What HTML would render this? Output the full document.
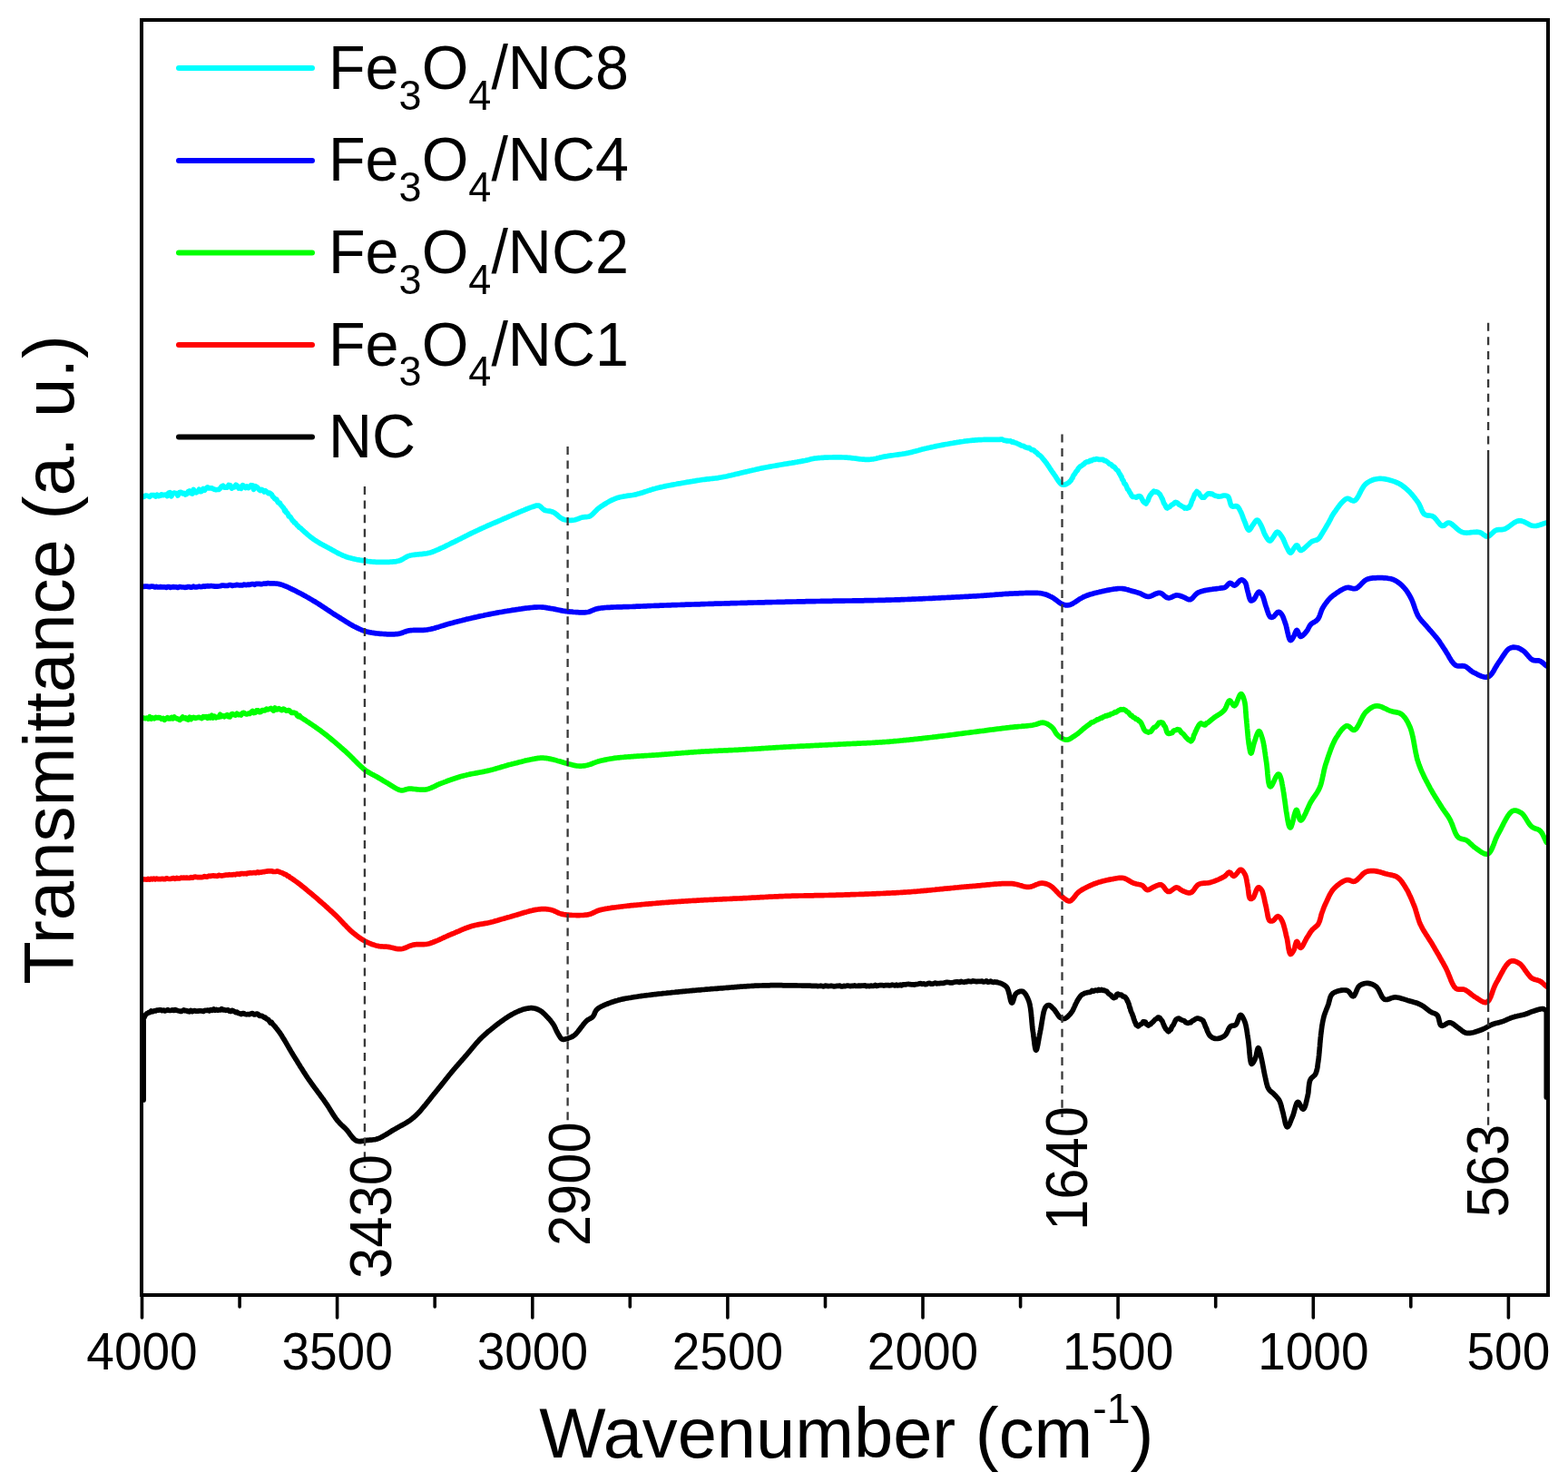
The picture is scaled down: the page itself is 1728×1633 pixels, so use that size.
<!DOCTYPE html>
<html><head><meta charset="utf-8"><title>FTIR spectra</title><style>
html,body{margin:0;padding:0;background:#fff;}
svg{display:block;}
text{font-family:"Liberation Sans",Arial,Helvetica,sans-serif;fill:#000;}
</style></head><body>
<svg width="1728" height="1633" viewBox="0 0 1728 1633">
<rect x="0" y="0" width="1728" height="1633" fill="#fff"/>
<polyline fill="none" stroke="#00ffff" stroke-width="5.7" stroke-linejoin="round" stroke-linecap="round" points="157.0,547.5 158.6,547.4 160.1,546.0 161.7,546.1 163.3,546.7 165.0,547.3 166.6,545.7 168.2,545.5 169.8,545.7 171.5,547.0 173.1,545.2 174.7,546.6 176.3,546.3 177.9,544.8 179.5,545.7 181.1,545.3 182.7,545.1 184.3,546.5 185.8,543.2 187.3,542.7 188.8,546.8 190.3,544.2 191.8,543.1 193.2,543.5 194.6,543.5 196.0,546.1 197.7,542.5 199.4,542.3 201.1,543.8 202.7,543.4 204.3,545.0 205.8,544.3 207.3,541.8 208.8,540.9 210.3,543.6 211.8,544.0 213.3,539.4 214.8,542.4 216.3,542.8 217.9,541.5 219.4,539.3 220.9,541.7 222.5,541.2 224.0,538.4 225.6,540.2 227.1,538.0 228.7,536.9 230.2,538.0 231.8,537.8 233.3,537.8 234.9,538.7 236.4,539.3 238.0,539.7 239.5,539.5 241.1,539.4 242.6,538.3 244.1,536.0 245.7,535.2 247.3,537.2 248.9,536.7 250.5,537.2 252.1,534.4 253.7,534.8 255.3,538.1 256.9,536.6 258.4,536.9 260.0,534.2 261.5,535.5 262.9,537.9 264.3,536.7 265.7,538.3 267.4,534.6 269.0,535.8 270.6,537.5 272.1,535.9 273.6,537.6 275.1,536.6 276.6,534.7 278.1,534.9 279.6,539.2 281.0,535.6 282.5,536.3 283.9,537.3 285.4,539.5 286.8,540.6 288.2,539.4 289.6,540.0 291.0,541.9 292.3,540.7 293.5,541.5 294.8,542.7 296.0,543.6 297.2,543.2 298.4,544.1 299.5,545.1 300.6,547.2 301.7,548.1 302.8,549.6 303.8,550.2 304.7,550.2 305.7,552.3 306.6,553.9 307.5,553.8 308.4,554.3 309.3,556.2 310.2,557.2 311.1,558.2 312.0,559.1 312.9,560.4 313.8,563.1 314.7,562.6 315.6,564.9 316.5,565.3 317.4,566.5 318.3,568.9 319.3,569.1 320.3,570.1 321.3,571.8 322.3,573.4 323.3,574.1 324.3,575.9 325.3,576.0 326.4,577.4 327.5,578.9 328.6,579.5 329.7,581.1 330.9,581.7 332.0,582.7 333.1,583.8 334.1,584.7 335.2,585.7 336.4,586.7 337.5,587.7 338.6,588.7 339.7,589.6 340.9,590.6 342.0,591.5 343.1,592.4 344.3,593.2 345.5,594.1 346.8,595.0 348.0,595.8 349.3,596.6 350.6,597.4 351.9,598.2 353.2,599.0 354.6,599.8 356.0,600.5 357.4,601.3 358.8,602.0 360.2,602.8 361.6,603.5 363.0,604.3 364.4,605.0 365.7,605.8 367.1,606.6 368.5,607.3 369.9,608.1 371.3,608.9 372.7,609.6 374.2,610.3 375.6,611.0 377.1,611.7 378.5,612.4 380.0,612.9 381.5,613.5 382.9,614.0 384.4,614.4 385.9,614.8 387.4,615.2 388.9,615.6 390.5,615.9 392.0,616.3 393.6,616.6 395.1,616.8 396.6,617.1 398.1,617.3 399.5,617.6 400.9,617.8 402.3,618.0 403.9,618.2 405.5,618.5 407.0,618.7 408.5,618.8 409.9,619.0 411.4,619.1 412.9,619.2 414.5,619.3 416.2,619.3 417.6,619.3 419.1,619.3 420.6,619.4 422.2,619.4 423.8,619.4 425.5,619.4 427.1,619.3 428.8,619.3 430.5,619.2 432.1,619.1 433.7,618.9 435.2,618.8 436.7,618.6 438.1,618.3 439.4,618.0 440.9,617.5 442.2,617.0 443.5,616.3 444.6,615.6 445.8,614.9 447.0,614.2 448.2,613.5 449.5,612.9 451.0,612.4 452.3,612.0 453.6,611.8 455.0,611.5 456.5,611.3 458.0,611.1 459.6,611.0 461.1,610.8 462.7,610.7 464.4,610.6 466.0,610.4 467.6,610.2 469.2,610.0 470.8,609.7 472.4,609.3 474.0,608.9 475.4,608.5 476.9,608.0 478.4,607.4 479.8,606.8 481.3,606.2 482.8,605.6 484.3,604.9 485.8,604.2 487.3,603.5 488.8,602.8 490.3,602.1 491.7,601.4 493.2,600.7 494.6,600.0 496.0,599.3 497.3,598.6 498.7,597.9 500.0,597.3 501.5,596.6 502.9,595.9 504.3,595.2 505.6,594.5 507.0,593.9 508.3,593.2 509.6,592.5 510.9,591.9 512.2,591.2 513.5,590.6 514.8,589.9 516.1,589.2 517.4,588.6 518.8,587.9 520.3,587.2 521.7,586.5 523.2,585.8 524.6,585.2 526.0,584.5 527.5,583.8 528.9,583.1 530.4,582.5 531.8,581.8 533.3,581.2 534.7,580.5 536.1,579.9 537.6,579.2 539.0,578.6 540.5,578.0 541.9,577.3 543.4,576.7 544.8,576.1 546.3,575.5 547.8,574.9 549.2,574.2 550.7,573.6 552.1,573.0 553.5,572.4 555.0,571.7 556.4,571.1 557.9,570.5 559.3,569.9 560.7,569.2 562.2,568.6 563.6,568.0 565.1,567.3 566.5,566.7 568.0,566.1 569.4,565.5 570.9,564.9 572.4,564.2 573.9,563.6 575.5,562.9 577.0,562.3 578.6,561.6 580.1,561.0 581.6,560.4 583.0,559.8 584.3,559.3 585.6,558.9 586.8,558.5 588.4,558.0 589.8,557.5 591.2,557.1 592.5,557.0 593.8,557.1 595.0,557.7 596.2,558.7 597.4,559.9 598.6,561.1 600.0,562.0 601.2,562.5 602.5,562.8 603.8,563.0 605.2,563.1 606.6,563.4 608.0,563.7 609.4,564.2 610.7,564.9 611.9,565.7 613.2,566.7 614.5,567.8 615.7,568.9 617.0,569.9 618.3,570.9 619.7,571.7 621.0,572.3 622.4,572.7 623.9,573.0 625.3,573.2 626.8,573.3 628.3,573.3 629.8,573.3 631.2,573.2 632.6,573.0 634.0,572.7 635.4,572.3 636.7,571.9 638.0,571.3 639.3,570.8 640.6,570.4 641.9,570.0 643.3,569.8 644.6,569.7 646.0,569.6 647.3,569.5 648.7,569.3 650.0,568.8 651.1,568.1 652.2,567.3 653.3,566.3 654.4,565.2 655.5,564.1 656.6,562.9 657.8,561.7 659.1,560.5 660.4,559.5 661.5,558.7 662.7,557.9 663.9,557.1 665.1,556.3 666.4,555.5 667.7,554.7 669.0,553.9 670.4,553.1 671.8,552.3 673.2,551.6 674.6,550.9 676.0,550.3 677.5,549.7 678.9,549.1 680.3,548.6 681.8,548.2 683.3,547.8 684.8,547.5 686.3,547.2 687.9,546.9 689.4,546.7 691.0,546.4 692.6,546.2 694.2,546.0 695.8,545.7 697.3,545.5 698.9,545.2 700.5,544.9 702.0,544.5 703.4,544.1 704.9,543.7 706.2,543.3 707.6,542.9 709.0,542.5 710.3,542.0 711.7,541.6 713.1,541.1 714.5,540.6 715.9,540.2 717.3,539.7 718.8,539.3 720.3,538.8 721.9,538.4 723.5,537.9 725.2,537.5 726.5,537.2 727.8,536.9 729.2,536.6 730.7,536.3 732.2,535.9 733.7,535.6 735.2,535.3 736.8,535.0 738.4,534.7 740.0,534.4 741.7,534.1 743.3,533.8 745.0,533.5 746.6,533.1 748.3,532.8 750.0,532.6 751.7,532.3 753.3,532.0 755.0,531.7 756.6,531.4 758.3,531.1 759.9,530.9 761.4,530.6 763.0,530.4 764.5,530.1 766.0,529.9 767.4,529.6 768.8,529.4 770.2,529.2 771.5,529.0 773.3,528.7 774.9,528.5 776.5,528.3 778.0,528.1 779.5,527.9 780.9,527.8 782.4,527.6 783.8,527.5 785.2,527.3 786.6,527.2 788.1,527.0 789.6,526.8 791.2,526.6 792.9,526.3 794.6,526.0 795.9,525.8 797.2,525.5 798.6,525.2 800.0,525.0 801.4,524.7 802.9,524.3 804.3,524.0 805.8,523.7 807.4,523.3 808.9,523.0 810.4,522.6 812.0,522.2 813.6,521.9 815.2,521.5 816.8,521.1 818.4,520.7 820.0,520.3 821.7,519.9 823.3,519.6 824.9,519.2 826.6,518.8 828.2,518.4 829.8,518.0 831.5,517.7 833.1,517.3 834.7,516.9 836.3,516.6 837.9,516.2 839.4,515.9 841.0,515.6 842.6,515.3 844.1,515.0 845.8,514.7 847.4,514.4 849.0,514.1 850.7,513.8 852.4,513.5 854.1,513.2 855.8,512.9 857.5,512.6 859.2,512.3 860.9,512.0 862.6,511.7 864.3,511.4 866.0,511.2 867.7,510.9 869.3,510.6 870.9,510.3 872.5,510.1 874.1,509.8 875.6,509.6 877.1,509.3 878.5,509.1 879.9,508.8 881.3,508.6 882.6,508.4 883.8,508.1 885.0,507.9 886.1,507.7 887.2,507.5 889.0,507.1 890.5,506.8 891.9,506.4 893.1,506.1 894.4,505.8 895.7,505.5 897.1,505.2 898.8,505.0 900.0,504.9 901.3,504.7 902.7,504.6 904.1,504.5 905.6,504.4 907.1,504.3 908.7,504.2 910.3,504.2 911.9,504.1 913.6,504.0 915.2,504.0 916.9,504.0 918.6,503.9 920.3,503.9 922.0,503.9 923.6,503.9 925.3,503.9 926.9,503.9 928.5,504.0 930.0,504.0 931.6,504.1 933.2,504.2 934.8,504.3 936.4,504.4 938.0,504.6 939.6,504.8 941.2,505.0 942.8,505.2 944.4,505.4 945.9,505.6 947.5,505.8 949.0,506.0 950.5,506.1 952.0,506.2 953.5,506.3 955.0,506.3 956.4,506.3 957.8,506.3 959.5,506.2 961.1,506.0 962.7,505.8 964.2,505.5 965.7,505.2 967.2,504.8 968.6,504.5 970.1,504.1 971.6,503.8 973.1,503.4 974.7,503.1 976.3,502.8 977.8,502.6 979.2,502.3 980.8,502.1 982.3,501.9 983.8,501.7 985.4,501.5 986.9,501.3 988.5,501.1 990.0,500.9 991.6,500.7 993.2,500.5 994.7,500.2 996.3,500.0 997.9,499.7 999.4,499.4 1001.0,499.1 1002.5,498.7 1004.1,498.4 1005.6,498.0 1007.1,497.6 1008.7,497.2 1010.2,496.8 1011.8,496.4 1013.3,495.9 1014.9,495.5 1016.4,495.1 1018.0,494.7 1019.5,494.3 1021.1,494.0 1022.6,493.6 1024.1,493.3 1025.7,492.9 1027.2,492.6 1028.8,492.3 1030.3,491.9 1031.8,491.6 1033.4,491.3 1034.9,491.0 1036.4,490.7 1038.0,490.4 1039.5,490.1 1041.1,489.8 1042.6,489.5 1044.2,489.3 1045.7,489.0 1047.2,488.7 1048.8,488.5 1050.3,488.2 1051.9,487.9 1053.4,487.7 1055.0,487.4 1056.5,487.2 1058.1,486.9 1059.6,486.7 1061.2,486.5 1062.7,486.2 1064.3,486.0 1065.8,485.8 1067.4,485.7 1068.9,485.5 1070.4,485.3 1072.0,485.2 1073.6,485.1 1075.1,484.9 1076.7,484.8 1078.3,484.7 1079.8,484.6 1081.4,484.6 1082.9,484.5 1084.5,484.4 1086.0,484.4 1087.5,484.3 1089.0,484.3 1090.5,484.3 1092.0,484.3 1093.6,484.3 1095.2,484.3 1096.8,484.3 1098.4,484.4 1100.0,484.4 1101.5,484.4 1103.1,484.1 1104.6,484.2 1106.1,485.1 1107.6,485.3 1109.1,485.8 1110.6,485.7 1112.1,486.0 1113.7,485.9 1115.2,487.2 1116.7,486.8 1118.2,487.8 1119.7,488.0 1121.2,488.9 1122.6,489.4 1124.1,490.1 1125.4,491.0 1126.8,491.3 1128.3,491.6 1129.8,492.7 1131.3,493.1 1132.7,493.7 1134.2,493.3 1135.5,494.6 1136.9,495.6 1138.3,495.6 1139.5,496.3 1140.7,497.9 1141.9,498.3 1143.1,499.4 1144.3,500.9 1145.5,501.5 1146.6,502.4 1147.8,503.5 1148.9,504.9 1150.0,506.3 1150.9,507.4 1151.9,508.6 1152.8,509.8 1153.7,511.0 1154.6,512.3 1155.5,513.6 1156.4,515.0 1157.2,516.3 1158.1,517.6 1158.9,518.9 1159.8,520.1 1160.6,521.3 1161.5,522.5 1162.4,523.8 1163.4,525.2 1164.3,526.7 1165.2,528.1 1166.1,529.5 1167.0,530.7 1167.9,531.9 1168.8,532.8 1169.7,533.6 1170.7,534.0 1172.1,534.2 1173.5,534.0 1174.9,533.5 1176.3,532.7 1177.7,531.8 1178.6,531.0 1179.4,530.1 1180.3,529.3 1181.1,527.6 1181.9,526.8 1182.7,524.4 1183.6,523.2 1184.5,522.2 1185.3,520.6 1186.3,519.2 1187.2,518.5 1188.2,516.4 1189.3,515.2 1190.5,513.9 1191.7,513.5 1193.0,512.3 1194.4,511.5 1195.8,510.0 1197.2,509.1 1198.6,508.8 1200.1,508.6 1201.5,507.3 1202.8,507.7 1204.2,506.7 1205.5,506.2 1207.0,506.4 1208.5,505.5 1209.9,506.1 1211.3,506.5 1212.7,506.3 1214.2,506.3 1215.6,506.4 1217.0,507.6 1218.3,507.6 1219.6,508.5 1221.0,509.5 1222.3,511.0 1223.7,511.5 1225.0,512.3 1226.3,513.8 1227.5,514.2 1228.8,515.4 1229.9,517.0 1231.0,518.0 1232.0,518.7 1232.8,520.2 1233.7,522.0 1234.4,522.6 1235.2,524.6 1235.9,525.1 1236.6,527.8 1237.3,528.8 1238.0,529.7 1238.7,532.0 1239.4,533.1 1240.2,533.4 1241.0,535.0 1241.8,536.9 1242.6,539.1 1243.4,539.5 1244.2,540.9 1245.1,542.7 1245.9,543.7 1246.7,545.5 1247.6,546.7 1248.5,547.4 1249.4,547.5 1250.8,547.5 1252.2,548.2 1253.7,547.1 1255.1,546.7 1256.4,546.8 1257.4,547.8 1258.2,549.4 1259.0,550.9 1259.8,552.4 1260.6,553.3 1261.4,554.1 1262.2,554.3 1263.0,555.1 1263.7,553.1 1264.5,552.5 1265.2,551.4 1266.0,548.8 1266.8,547.1 1267.7,545.4 1268.5,544.7 1269.4,543.2 1270.3,542.7 1271.6,541.2 1273.0,542.1 1274.5,541.9 1275.9,542.4 1277.2,543.7 1278.1,544.4 1278.9,545.9 1279.6,547.1 1280.4,549.0 1281.1,550.0 1281.8,552.0 1282.5,554.2 1283.3,555.4 1284.0,556.4 1284.8,558.3 1285.6,559.6 1286.5,560.0 1287.7,558.9 1289.0,558.5 1290.4,557.1 1291.8,556.0 1293.1,555.6 1294.4,553.9 1295.7,553.4 1296.9,553.7 1298.1,554.6 1299.2,555.9 1300.4,556.5 1301.5,557.3 1302.7,558.0 1304.1,558.6 1305.5,560.0 1306.9,559.4 1308.3,560.2 1309.6,559.0 1310.4,559.3 1311.2,557.5 1311.9,556.9 1312.6,554.8 1313.3,552.6 1314.0,550.8 1314.7,549.9 1315.4,547.7 1316.1,546.0 1316.7,544.4 1317.4,543.7 1318.2,542.6 1318.9,541.6 1320.0,542.7 1321.2,543.3 1322.4,545.6 1323.5,546.7 1324.7,548.2 1325.8,547.8 1326.9,548.2 1328.0,547.0 1329.1,546.0 1330.3,544.9 1331.6,543.8 1332.8,543.8 1334.2,544.3 1335.7,544.1 1337.2,545.2 1338.8,546.2 1340.3,546.4 1341.8,546.9 1343.1,547.1 1344.6,547.0 1346.1,546.7 1347.5,546.3 1348.8,546.0 1350.0,546.0 1351.3,546.2 1352.4,546.6 1353.5,547.4 1354.2,548.5 1354.7,550.0 1355.2,551.8 1355.7,553.7 1356.2,555.4 1356.8,556.9 1357.6,557.8 1358.9,558.1 1360.4,557.9 1361.9,557.6 1363.2,557.8 1364.2,558.6 1365.1,559.7 1365.9,561.1 1366.6,562.5 1367.4,564.0 1368.0,565.3 1368.6,566.8 1369.2,568.3 1369.7,569.8 1370.3,571.4 1370.9,572.9 1371.5,574.4 1372.2,576.0 1372.8,577.8 1373.5,579.6 1374.2,581.3 1374.9,582.8 1375.7,583.8 1376.4,584.2 1377.2,583.8 1378.0,582.8 1378.9,581.4 1379.7,579.9 1380.6,578.6 1381.5,577.3 1382.5,575.8 1383.5,574.4 1384.5,573.4 1385.4,573.0 1386.3,573.4 1387.1,574.3 1388.0,575.7 1388.8,577.1 1389.6,578.6 1390.2,579.8 1390.8,581.2 1391.4,582.6 1392.0,584.1 1392.5,585.6 1393.1,587.1 1393.7,588.5 1394.4,589.7 1395.3,591.3 1396.3,593.0 1397.3,594.5 1398.3,595.5 1399.3,596.0 1400.2,595.7 1401.1,594.8 1401.9,593.6 1402.8,592.5 1403.7,591.2 1404.7,589.6 1405.6,588.0 1406.6,586.8 1407.6,586.2 1408.6,586.5 1409.6,587.3 1410.6,588.4 1411.6,589.8 1412.5,591.1 1413.2,592.2 1413.8,593.4 1414.5,594.7 1415.1,596.2 1415.7,597.6 1416.3,599.0 1416.9,600.4 1417.5,601.7 1418.1,602.9 1418.9,604.5 1419.7,606.2 1420.5,607.7 1421.4,608.8 1422.2,609.2 1423.0,608.8 1423.9,607.7 1424.7,606.2 1425.6,604.8 1426.4,603.6 1427.3,602.4 1428.3,601.2 1429.2,600.8 1430.0,601.4 1430.7,602.7 1431.5,604.3 1432.3,605.7 1433.3,606.4 1434.3,606.3 1435.5,605.6 1436.7,604.7 1438.0,603.6 1439.2,602.5 1440.3,601.5 1441.4,600.5 1442.5,599.5 1443.5,598.5 1444.6,597.5 1445.8,596.7 1447.1,596.1 1448.6,595.6 1450.1,595.2 1451.5,594.7 1452.8,593.9 1453.7,593.0 1454.6,591.9 1455.3,590.8 1456.1,589.5 1456.8,588.2 1457.6,586.9 1458.3,585.7 1459.1,584.5 1459.9,583.2 1460.7,581.8 1461.5,580.4 1462.3,579.1 1463.1,577.7 1463.9,576.4 1464.6,575.1 1465.4,573.7 1466.1,572.3 1466.8,571.0 1467.4,569.6 1468.2,568.3 1469.0,566.9 1470.0,565.4 1470.8,564.3 1471.7,563.1 1472.6,561.7 1473.6,560.3 1474.6,558.9 1475.7,557.5 1476.8,556.1 1477.9,554.7 1479.1,553.4 1480.2,552.3 1481.3,551.3 1482.4,550.4 1483.4,549.8 1484.4,549.4 1485.8,549.4 1487.2,549.9 1488.5,550.7 1489.8,551.4 1491.2,551.9 1492.5,551.8 1493.4,551.3 1494.2,550.6 1495.0,549.7 1495.8,548.5 1496.6,547.2 1497.4,545.8 1498.2,544.2 1499.0,542.7 1499.8,541.1 1500.6,539.5 1501.5,538.0 1502.4,536.5 1503.3,535.3 1504.2,534.1 1505.2,533.2 1506.4,532.2 1507.7,531.4 1509.0,530.6 1510.3,529.9 1511.7,529.3 1513.1,528.8 1514.5,528.3 1516.0,528.0 1517.5,527.7 1519.0,527.5 1520.4,527.4 1521.8,527.4 1523.3,527.5 1524.9,527.7 1526.5,527.9 1528.1,528.2 1529.7,528.6 1531.3,529.0 1532.9,529.4 1534.4,529.9 1535.9,530.4 1537.4,530.9 1538.7,531.5 1540.0,532.0 1541.5,532.7 1542.9,533.5 1544.2,534.3 1545.5,535.2 1546.7,536.1 1547.9,537.0 1549.1,538.0 1550.3,539.1 1551.5,540.2 1552.5,541.2 1553.6,542.2 1554.6,543.3 1555.6,544.4 1556.6,545.6 1557.6,546.8 1558.6,548.0 1559.5,549.2 1560.4,550.4 1561.3,551.6 1562.2,552.8 1563.0,554.0 1563.8,555.3 1564.5,556.7 1565.2,558.2 1565.8,559.6 1566.4,561.1 1567.0,562.5 1567.6,563.8 1568.3,564.9 1569.1,566.0 1570.0,566.8 1571.4,567.5 1572.9,567.9 1574.5,568.1 1576.1,568.2 1577.8,568.5 1579.3,569.1 1580.4,569.9 1581.5,570.9 1582.5,572.2 1583.6,573.5 1584.6,574.9 1585.7,576.2 1586.7,577.4 1587.7,578.4 1588.7,579.1 1589.7,579.5 1591.1,579.3 1592.4,578.4 1593.7,577.3 1595.1,576.3 1596.6,576.0 1597.7,576.2 1598.8,576.8 1599.9,577.5 1601.1,578.5 1602.3,579.5 1603.6,580.7 1604.9,581.9 1606.2,583.1 1607.6,584.2 1608.9,585.1 1610.3,585.9 1611.7,586.5 1613.1,586.8 1614.7,587.0 1616.3,587.1 1617.9,587.0 1619.5,586.9 1621.2,586.7 1622.8,586.5 1624.4,586.4 1626.0,586.3 1627.5,586.2 1628.9,586.3 1630.2,586.5 1631.7,587.0 1633.1,587.8 1634.4,588.8 1635.7,589.7 1636.9,590.5 1638.1,591.0 1639.4,591.1 1640.6,590.8 1641.7,590.1 1642.9,589.1 1644.0,588.0 1645.2,586.9 1646.3,585.8 1647.5,584.9 1648.7,584.2 1650.2,583.8 1651.7,583.6 1653.2,583.6 1654.7,583.6 1656.3,583.4 1658.0,583.0 1659.2,582.5 1660.5,581.8 1661.8,581.0 1663.1,580.0 1664.5,579.0 1665.8,578.0 1667.2,577.0 1668.6,576.0 1670.0,575.2 1671.4,574.5 1672.8,574.1 1674.2,573.8 1675.7,573.8 1677.1,574.1 1678.6,574.6 1680.1,575.2 1681.6,576.0 1683.1,576.8 1684.6,577.6 1686.0,578.3 1687.5,578.9 1689.0,579.3 1690.4,579.5 1692.0,579.5 1693.5,579.3 1695.1,578.9 1696.6,578.5 1698.2,578.0 1699.7,577.5 1701.2,576.9 1702.8,576.4 1704.3,576.0"/>
<polyline fill="none" stroke="#0000ff" stroke-width="5.7" stroke-linejoin="round" stroke-linecap="round" points="157.0,646.4 158.6,646.4 160.1,646.0 161.7,646.1 163.2,646.4 164.7,646.7 166.3,646.2 167.8,646.2 169.4,646.4 170.9,647.0 172.4,646.4 174.0,647.0 175.5,647.0 177.1,646.5 178.6,646.9 180.2,646.8 181.7,646.8 183.3,647.4 184.8,646.6 186.4,646.5 188.0,647.4 189.6,646.9 191.2,646.7 192.8,646.8 194.4,646.9 196.0,647.5 197.5,646.7 199.0,646.7 200.5,647.0 202.1,647.0 203.6,647.3 205.2,647.2 206.7,646.7 208.3,646.5 209.9,647.1 211.5,647.2 213.1,646.2 214.7,646.8 216.3,646.9 217.9,646.6 219.5,646.1 221.1,646.6 222.7,646.5 224.3,645.9 225.8,646.3 227.4,645.8 229.0,645.6 230.6,645.8 232.1,645.7 233.7,645.7 235.2,645.9 236.7,646.1 238.2,646.1 239.7,646.1 241.2,646.0 242.6,645.8 244.3,645.2 246.0,645.0 247.7,645.4 249.3,645.3 251.0,645.3 252.6,644.7 254.3,644.7 255.9,645.4 257.5,645.0 259.1,645.0 260.7,644.4 262.3,644.6 263.9,645.0 265.4,644.7 267.0,645.0 268.5,644.1 270.0,644.3 271.5,644.6 273.0,644.1 274.4,644.4 275.9,644.1 277.3,643.6 279.0,643.5 280.6,644.3 282.3,643.3 284.0,643.3 285.6,643.3 287.2,643.6 288.8,643.6 290.4,643.1 291.9,643.0 293.4,643.2 294.8,642.6 296.2,642.7 297.5,642.9 298.8,642.9 300.0,642.8 301.8,642.9 303.4,643.0 304.8,643.1 306.2,643.3 307.7,643.6 309.3,644.0 310.6,644.4 311.9,644.8 313.2,645.3 314.5,645.8 315.9,646.4 317.2,647.0 318.7,647.7 320.1,648.4 321.6,649.1 323.1,649.8 324.3,650.4 325.6,651.0 326.9,651.7 328.2,652.4 329.5,653.1 330.9,653.8 332.3,654.5 333.7,655.3 335.1,656.1 336.5,656.8 337.9,657.6 339.3,658.4 340.8,659.3 342.2,660.1 343.6,660.9 344.9,661.7 346.3,662.5 347.6,663.3 348.9,664.1 350.2,664.9 351.5,665.7 352.8,666.5 354.0,667.4 355.3,668.2 356.6,669.1 357.9,669.9 359.1,670.8 360.4,671.6 361.7,672.5 363.0,673.3 364.3,674.2 365.5,675.0 366.8,675.9 368.1,676.7 369.4,677.5 370.8,678.4 372.2,679.2 373.6,680.1 375.0,681.0 376.4,681.9 377.9,682.8 379.3,683.7 380.7,684.6 382.1,685.5 383.6,686.3 384.9,687.2 386.3,688.0 387.6,688.7 388.9,689.5 390.2,690.2 391.4,690.8 392.6,691.4 394.2,692.2 395.7,692.9 397.1,693.5 398.5,694.1 399.8,694.6 401.2,695.1 402.7,695.6 404.2,696.0 405.6,696.3 406.9,696.7 408.4,696.9 409.8,697.2 411.3,697.4 412.8,697.6 414.3,697.8 415.8,698.0 417.3,698.1 418.9,698.3 420.4,698.4 421.9,698.5 423.5,698.6 425.0,698.7 426.6,698.8 428.2,698.8 429.9,698.9 431.5,698.9 433.0,698.9 434.6,698.8 436.1,698.7 437.5,698.6 438.9,698.4 440.5,698.1 441.9,697.7 443.3,697.2 444.7,696.7 446.0,696.2 447.4,695.7 448.9,695.2 450.5,694.9 451.8,694.7 453.1,694.6 454.5,694.5 455.9,694.4 457.4,694.4 458.9,694.4 460.4,694.4 461.9,694.4 463.5,694.4 465.0,694.3 466.6,694.3 468.2,694.2 469.7,694.0 471.3,693.8 472.7,693.5 474.2,693.3 475.7,692.9 477.2,692.6 478.7,692.2 480.2,691.7 481.7,691.3 483.2,690.9 484.8,690.4 486.3,689.9 487.8,689.4 489.3,689.0 490.8,688.5 492.3,688.1 493.8,687.6 495.3,687.2 496.8,686.8 498.4,686.4 499.9,686.0 501.4,685.6 502.9,685.2 504.4,684.8 505.9,684.4 507.4,684.0 508.9,683.7 510.4,683.3 511.9,682.9 513.4,682.5 515.0,682.1 516.6,681.8 518.2,681.4 519.9,681.0 521.3,680.7 522.6,680.4 524.1,680.1 525.5,679.8 526.9,679.4 528.4,679.1 529.9,678.8 531.3,678.5 532.8,678.2 534.4,677.8 535.9,677.5 537.4,677.2 539.0,676.9 540.5,676.6 542.1,676.3 543.6,676.0 545.2,675.7 546.8,675.4 548.3,675.1 549.9,674.8 551.5,674.5 553.0,674.3 554.6,674.0 556.1,673.7 557.7,673.5 559.3,673.2 561.0,673.0 562.6,672.7 564.3,672.4 566.0,672.1 567.7,671.9 569.4,671.6 571.1,671.4 572.8,671.1 574.5,670.9 576.2,670.6 577.9,670.4 579.6,670.2 581.2,670.0 582.8,669.8 584.3,669.6 585.9,669.5 587.4,669.3 588.8,669.2 590.2,669.1 591.5,669.1 592.8,669.0 594.0,669.0 595.8,669.0 597.5,669.1 599.1,669.2 600.6,669.4 602.0,669.6 603.5,669.9 604.9,670.1 606.4,670.4 607.9,670.6 609.3,670.8 610.7,671.1 612.1,671.4 613.5,671.7 615.0,672.0 616.4,672.3 617.9,672.6 619.4,672.9 620.9,673.2 622.4,673.4 624.0,673.6 625.4,673.8 626.9,673.9 628.5,674.1 630.1,674.2 631.7,674.4 633.4,674.5 635.0,674.6 636.7,674.7 638.3,674.8 639.9,674.8 641.5,674.9 643.0,674.8 644.5,674.8 645.9,674.7 647.2,674.5 648.8,674.2 650.2,673.8 651.5,673.2 652.8,672.7 654.1,672.1 655.5,671.5 657.0,671.0 658.8,670.6 659.9,670.4 661.1,670.2 662.3,670.0 663.6,669.9 664.9,669.8 666.2,669.6 667.6,669.5 669.0,669.4 670.5,669.3 672.0,669.3 673.6,669.2 675.1,669.1 676.8,669.0 678.4,669.0 680.1,668.9 681.8,668.9 683.5,668.8 685.3,668.8 687.0,668.7 688.8,668.7 690.7,668.6 692.5,668.6 694.4,668.5 696.2,668.5 698.1,668.4 700.0,668.3 701.3,668.2 702.6,668.2 703.9,668.1 705.3,668.1 706.7,668.0 708.0,668.0 709.4,667.9 710.9,667.8 712.3,667.8 713.8,667.7 715.3,667.7 716.7,667.6 718.3,667.5 719.8,667.5 721.3,667.4 722.9,667.4 724.4,667.3 726.0,667.3 727.6,667.2 729.2,667.1 730.8,667.1 732.4,667.0 734.0,667.0 735.7,666.9 737.3,666.9 739.0,666.8 740.6,666.7 742.3,666.7 744.0,666.6 745.7,666.6 747.3,666.5 749.0,666.5 750.7,666.4 752.4,666.3 754.1,666.3 755.8,666.2 757.5,666.2 759.2,666.1 760.9,666.1 762.6,666.0 764.3,666.0 766.0,665.9 767.7,665.9 769.4,665.8 771.1,665.8 772.8,665.7 774.5,665.6 776.2,665.6 777.9,665.5 779.5,665.5 781.2,665.4 782.8,665.4 784.5,665.3 786.1,665.3 787.8,665.2 789.4,665.2 791.0,665.1 792.6,665.1 794.2,665.1 795.8,665.0 797.4,665.0 799.0,664.9 800.6,664.9 802.2,664.8 803.8,664.8 805.4,664.7 807.0,664.7 808.6,664.6 810.2,664.6 811.8,664.6 813.4,664.5 815.0,664.5 816.5,664.4 818.1,664.4 819.7,664.3 821.3,664.3 822.9,664.3 824.5,664.2 826.1,664.2 827.7,664.1 829.3,664.1 830.9,664.0 832.5,664.0 834.1,664.0 835.7,663.9 837.3,663.9 838.9,663.9 840.5,663.8 842.1,663.8 843.7,663.7 845.3,663.7 846.9,663.7 848.5,663.6 850.1,663.6 851.7,663.5 853.3,663.5 854.9,663.5 856.5,663.4 858.1,663.4 859.7,663.4 861.3,663.3 862.8,663.3 864.4,663.3 866.0,663.2 867.6,663.2 869.2,663.1 870.8,663.1 872.4,663.1 874.0,663.0 875.6,663.0 877.2,663.0 878.8,662.9 880.4,662.9 882.0,662.9 883.6,662.8 885.2,662.8 886.8,662.8 888.4,662.7 890.0,662.7 891.7,662.7 893.3,662.6 894.9,662.6 896.6,662.6 898.2,662.6 899.9,662.5 901.6,662.5 903.2,662.5 904.9,662.4 906.6,662.4 908.3,662.4 909.9,662.4 911.6,662.3 913.3,662.3 915.0,662.3 916.7,662.3 918.4,662.2 920.1,662.2 921.7,662.2 923.4,662.2 925.1,662.1 926.8,662.1 928.5,662.1 930.2,662.1 931.8,662.0 933.5,662.0 935.2,662.0 936.8,662.0 938.5,662.0 940.1,661.9 941.7,661.9 943.4,661.9 945.0,661.9 946.6,661.8 948.2,661.8 949.8,661.8 951.4,661.8 953.0,661.7 954.6,661.7 956.1,661.7 957.7,661.6 959.2,661.6 960.7,661.6 962.2,661.6 963.7,661.5 965.2,661.5 966.7,661.5 968.1,661.4 969.5,661.4 971.0,661.4 972.4,661.3 973.8,661.3 975.1,661.3 976.5,661.2 977.8,661.2 979.6,661.1 981.5,661.1 983.2,661.0 985.0,661.0 986.7,660.9 988.3,660.9 990.0,660.8 991.6,660.8 993.2,660.7 994.7,660.7 996.3,660.6 997.8,660.5 999.4,660.5 1000.9,660.4 1002.4,660.4 1003.9,660.3 1005.4,660.2 1006.9,660.2 1008.4,660.1 1009.9,660.0 1011.4,660.0 1012.9,659.9 1014.4,659.8 1016.0,659.8 1017.5,659.7 1019.1,659.6 1020.7,659.5 1022.3,659.5 1024.0,659.4 1025.5,659.3 1027.0,659.3 1028.5,659.2 1030.1,659.1 1031.6,659.0 1033.2,659.0 1034.7,658.9 1036.3,658.8 1037.9,658.7 1039.5,658.7 1041.1,658.6 1042.7,658.5 1044.3,658.4 1045.9,658.4 1047.5,658.3 1049.2,658.2 1050.8,658.1 1052.4,658.0 1054.0,657.9 1055.6,657.9 1057.2,657.8 1058.8,657.7 1060.4,657.6 1062.0,657.5 1063.6,657.4 1065.1,657.3 1066.7,657.3 1068.2,657.2 1069.8,657.1 1071.3,657.0 1072.8,656.9 1074.3,656.8 1075.7,656.8 1077.2,656.7 1078.6,656.6 1080.0,656.5 1081.7,656.4 1083.4,656.3 1085.0,656.2 1086.6,656.1 1088.3,655.9 1089.9,655.8 1091.4,655.7 1093.0,655.6 1094.6,655.5 1096.1,655.3 1097.6,655.2 1099.2,655.1 1100.7,655.0 1102.2,654.9 1103.7,654.8 1105.2,654.6 1106.7,654.5 1108.1,654.4 1109.6,654.4 1111.1,654.3 1112.6,654.2 1114.0,654.1 1115.5,654.1 1117.0,654.0 1118.7,653.9 1120.3,653.9 1122.0,653.8 1123.7,653.7 1125.4,653.6 1127.2,653.6 1128.9,653.5 1130.6,653.4 1132.3,653.4 1133.9,653.3 1135.6,653.3 1137.2,653.3 1138.8,653.3 1140.4,653.3 1141.9,653.3 1143.3,653.4 1144.7,653.5 1146.0,653.6 1147.3,653.8 1148.5,654.0 1150.2,654.4 1151.7,654.8 1153.1,655.3 1154.5,655.8 1155.8,656.4 1157.0,657.0 1158.3,657.6 1159.6,658.3 1160.9,659.0 1162.1,659.9 1163.4,660.8 1164.7,661.8 1165.9,662.7 1167.1,663.6 1168.3,664.5 1169.5,665.2 1170.7,665.7 1172.2,666.2 1173.6,666.6 1175.0,666.9 1176.5,666.9 1178.1,666.7 1179.3,666.4 1180.5,665.9 1181.9,665.2 1183.2,664.4 1184.6,663.6 1186.1,662.6 1187.6,661.6 1189.0,660.7 1190.5,659.7 1192.0,658.9 1193.4,658.1 1194.8,657.4 1196.3,656.8 1197.7,656.2 1199.1,655.7 1200.5,655.2 1201.9,654.8 1203.4,654.4 1204.8,654.0 1206.4,653.6 1207.9,653.2 1209.6,652.8 1210.9,652.5 1212.4,652.1 1213.9,651.8 1215.4,651.4 1217.0,651.1 1218.7,650.7 1220.3,650.4 1222.0,650.1 1223.6,649.8 1225.3,649.5 1226.9,649.2 1228.5,649.0 1230.1,648.8 1231.6,648.6 1233.0,648.5 1234.3,648.5 1235.6,648.5 1237.2,648.6 1238.7,648.8 1240.2,649.1 1241.5,649.5 1242.8,649.8 1244.1,650.2 1245.4,650.6 1246.7,651.0 1248.1,651.4 1249.4,651.7 1250.8,652.1 1252.1,652.5 1253.4,652.8 1254.7,653.3 1256.0,653.7 1257.3,654.2 1258.6,654.9 1259.9,655.6 1261.1,656.2 1262.5,656.8 1263.8,657.2 1265.2,657.4 1266.5,657.3 1268.0,656.9 1269.4,656.3 1270.9,655.6 1272.4,654.9 1273.9,654.2 1275.4,653.7 1276.8,653.3 1278.1,653.3 1279.5,653.7 1280.9,654.5 1282.2,655.6 1283.5,656.7 1284.8,657.7 1286.1,658.5 1287.4,658.9 1288.7,658.8 1290.1,658.5 1291.4,657.9 1292.8,657.2 1294.1,656.6 1295.4,656.1 1296.7,655.9 1298.2,656.0 1299.7,656.3 1301.1,656.8 1302.6,657.3 1304.0,657.8 1305.3,658.3 1306.5,659.0 1307.8,659.7 1309.0,660.3 1310.3,660.7 1311.5,660.7 1312.6,660.3 1313.7,659.5 1314.7,658.5 1315.7,657.3 1316.8,656.0 1318.0,654.8 1319.2,653.7 1320.7,652.8 1321.9,652.3 1323.2,651.8 1324.7,651.4 1326.2,651.0 1327.9,650.6 1329.6,650.3 1331.3,650.0 1333.0,649.7 1334.8,649.5 1336.5,649.2 1338.1,649.0 1339.7,648.8 1341.2,648.6 1342.5,648.5 1343.8,648.3 1344.8,648.1 1346.4,647.9 1347.7,647.8 1348.8,647.6 1350.0,647.2 1351.2,646.4 1352.3,645.2 1353.4,643.9 1354.5,642.9 1355.6,642.4 1356.8,642.8 1358.0,643.7 1359.1,644.7 1360.4,645.1 1361.4,644.7 1362.6,643.8 1363.7,642.6 1364.9,641.3 1366.0,640.1 1367.1,639.3 1368.1,638.9 1369.2,639.1 1370.3,639.7 1371.3,640.6 1372.2,641.7 1372.8,642.7 1373.2,644.0 1373.6,645.4 1373.9,646.9 1374.3,648.4 1374.6,649.9 1375.0,651.4 1375.4,653.0 1375.9,654.8 1376.3,656.7 1376.8,658.4 1377.3,660.0 1377.9,661.1 1378.5,661.8 1379.8,661.9 1381.2,661.1 1382.1,660.2 1383.0,658.8 1383.9,657.1 1384.8,655.3 1385.8,653.7 1386.7,652.6 1387.5,652.1 1388.4,652.4 1389.3,653.2 1390.2,654.3 1391.0,655.6 1391.5,656.6 1392.0,657.8 1392.5,659.2 1392.9,660.6 1393.3,662.1 1393.7,663.7 1394.2,665.2 1394.6,666.7 1395.1,668.1 1395.7,669.7 1396.2,671.5 1396.8,673.3 1397.4,675.0 1398.0,676.7 1398.7,678.1 1399.3,679.2 1400.0,679.9 1401.3,680.3 1402.8,679.9 1403.8,679.3 1404.8,678.2 1405.9,676.9 1407.0,675.6 1408.0,674.7 1409.0,674.3 1410.3,674.7 1411.4,675.7 1412.5,677.1 1413.1,678.0 1413.7,679.1 1414.2,680.3 1414.7,681.7 1415.2,683.1 1415.7,684.5 1416.2,686.0 1416.7,687.5 1417.2,688.9 1417.6,690.6 1418.0,692.5 1418.5,694.4 1418.9,696.4 1419.4,698.3 1419.8,700.2 1420.3,701.9 1420.7,703.3 1421.2,704.5 1421.7,705.3 1422.2,705.6 1423.1,705.3 1424.0,704.2 1424.9,702.8 1425.7,701.4 1426.4,699.9 1427.1,698.1 1427.8,696.3 1428.5,695.0 1429.2,694.4 1429.8,694.9 1430.4,696.1 1431.1,697.8 1431.7,699.5 1432.5,700.8 1433.3,701.4 1434.3,701.2 1435.5,700.4 1436.8,699.2 1438.1,697.8 1439.3,696.4 1440.3,695.1 1441.1,694.0 1441.7,692.8 1442.3,691.6 1442.9,690.4 1443.6,689.3 1444.4,688.2 1445.5,687.2 1446.8,686.3 1448.2,685.6 1449.6,684.7 1450.9,683.8 1452.1,682.6 1452.9,681.5 1453.6,680.2 1454.2,678.8 1454.7,677.4 1455.2,675.9 1455.8,674.3 1456.3,672.9 1456.9,671.4 1457.6,670.1 1458.4,668.8 1459.2,667.4 1460.1,666.1 1461.0,664.9 1461.9,663.7 1462.8,662.5 1463.7,661.4 1464.6,660.4 1465.6,659.3 1466.6,658.3 1467.6,657.4 1468.7,656.6 1470.0,655.6 1471.0,654.9 1472.2,654.0 1473.4,653.2 1474.7,652.3 1476.1,651.4 1477.5,650.5 1478.9,649.7 1480.3,649.0 1481.7,648.3 1483.0,647.8 1484.3,647.5 1485.8,647.4 1487.2,647.6 1488.6,647.9 1490.0,648.3 1491.4,648.6 1492.7,648.7 1494.1,648.5 1495.3,648.0 1496.5,647.2 1497.6,646.2 1498.8,645.1 1499.9,643.9 1501.1,642.6 1502.3,641.4 1503.4,640.3 1504.7,639.4 1505.9,638.7 1507.3,638.1 1508.7,637.7 1510.1,637.3 1511.6,637.1 1513.0,636.9 1514.5,636.8 1516.1,636.8 1517.7,636.7 1519.1,636.7 1520.5,636.7 1522.0,636.7 1523.5,636.7 1525.1,636.8 1526.7,636.9 1528.3,637.0 1529.8,637.3 1531.3,637.5 1532.8,637.8 1534.2,638.2 1535.5,638.7 1536.9,639.3 1538.2,640.0 1539.5,640.7 1540.7,641.6 1541.9,642.5 1543.1,643.4 1544.2,644.4 1545.3,645.4 1546.3,646.5 1547.3,647.5 1548.3,648.7 1549.3,649.9 1550.2,651.1 1551.1,652.4 1551.9,653.7 1552.7,655.0 1553.5,656.4 1554.3,657.9 1555.1,659.4 1555.7,660.6 1556.3,662.0 1556.8,663.3 1557.4,664.8 1557.9,666.2 1558.4,667.7 1558.9,669.2 1559.4,670.7 1560.0,672.2 1560.5,673.7 1561.1,675.1 1561.7,676.5 1562.3,677.8 1563.0,679.0 1563.9,680.4 1564.8,681.6 1565.7,682.8 1566.7,684.0 1567.7,685.1 1568.7,686.2 1569.7,687.3 1570.7,688.5 1571.8,689.6 1572.8,690.8 1573.8,691.9 1574.7,693.0 1575.7,694.2 1576.8,695.3 1577.8,696.5 1578.8,697.7 1579.8,698.8 1580.8,700.0 1581.8,701.2 1582.8,702.3 1583.7,703.5 1584.6,704.6 1585.6,705.9 1586.5,707.2 1587.3,708.5 1588.2,709.8 1589.0,711.0 1589.8,712.3 1590.7,713.7 1591.6,715.0 1592.5,716.4 1593.3,717.6 1594.1,719.0 1595.0,720.4 1595.9,721.9 1596.7,723.4 1597.6,725.0 1598.5,726.4 1599.4,727.9 1600.4,729.2 1601.3,730.4 1602.3,731.5 1603.3,732.4 1604.3,733.1 1605.7,733.7 1607.1,733.9 1608.5,733.9 1609.9,733.8 1611.4,733.7 1612.8,733.8 1614.2,734.1 1615.5,734.7 1616.7,735.5 1617.8,736.4 1619.0,737.3 1620.1,738.3 1621.3,739.3 1622.6,740.2 1624.0,741.0 1625.3,741.6 1626.6,742.3 1628.1,743.1 1629.6,743.8 1631.1,744.5 1632.6,745.1 1634.1,745.6 1635.6,746.0 1637.1,746.2 1638.4,746.2 1639.7,745.9 1640.8,745.4 1641.8,744.7 1642.8,743.8 1643.7,742.7 1644.6,741.5 1645.5,740.1 1646.4,738.7 1647.2,737.2 1648.0,735.7 1648.9,734.3 1649.7,732.8 1650.6,731.5 1651.5,730.2 1652.4,728.9 1653.3,727.6 1654.2,726.2 1655.1,724.8 1656.0,723.4 1657.0,722.0 1657.9,720.6 1658.8,719.3 1659.7,718.1 1660.6,716.9 1661.5,716.0 1662.5,715.1 1663.4,714.5 1665.0,713.8 1666.5,713.4 1668.1,713.2 1669.7,713.3 1671.2,713.5 1672.5,713.8 1673.9,714.3 1675.2,714.9 1676.5,715.7 1677.8,716.5 1679.1,717.4 1680.2,718.3 1681.3,719.4 1682.3,720.6 1683.4,721.9 1684.5,723.2 1685.6,724.4 1686.7,725.6 1687.8,726.5 1688.9,727.2 1690.5,727.7 1692.1,727.8 1693.7,727.8 1695.3,727.8 1696.8,728.2 1698.0,728.8 1699.1,729.5 1700.3,730.4 1701.4,731.3 1702.5,732.3 1703.6,733.2 1704.7,734.1"/>
<polyline fill="none" stroke="#00ff00" stroke-width="5.7" stroke-linejoin="round" stroke-linecap="round" points="157.0,791.2 158.6,791.2 160.2,791.7 161.8,791.0 163.4,792.1 165.0,789.8 166.7,792.0 168.3,791.0 169.9,791.8 171.6,790.3 173.2,790.9 174.9,790.7 176.5,790.9 178.1,792.3 179.7,791.5 181.3,793.2 182.9,791.9 184.5,790.7 186.0,792.0 187.6,791.8 189.1,790.5 190.6,791.8 192.1,790.0 193.5,791.3 194.9,791.8 196.3,792.3 198.0,793.3 199.7,792.1 201.3,790.1 202.9,791.6 204.5,790.8 206.0,792.5 207.5,793.0 209.0,790.2 210.5,792.5 211.9,790.8 213.4,790.4 214.9,791.3 216.4,791.1 217.9,790.6 219.4,790.4 220.9,790.9 222.5,791.6 224.0,789.7 225.6,790.3 227.1,789.7 228.7,791.2 230.2,789.4 231.8,790.9 233.3,788.3 234.9,790.9 236.4,789.3 238.0,790.8 239.5,790.2 241.1,790.2 242.6,787.3 244.1,789.6 245.7,788.7 247.2,789.8 248.8,788.6 250.3,787.8 251.8,789.6 253.4,789.8 254.9,787.0 256.5,786.6 258.0,787.5 259.5,788.1 261.1,786.3 262.6,787.6 264.2,787.3 265.7,788.0 267.3,785.6 268.8,785.4 270.4,786.5 272.0,787.0 273.5,786.2 275.1,786.5 276.7,784.7 278.2,783.6 279.8,785.6 281.4,785.2 282.9,782.9 284.4,782.8 285.9,784.7 287.4,784.4 288.9,782.6 290.5,782.6 292.1,782.8 293.7,781.2 295.3,781.9 296.9,781.4 298.5,780.4 300.0,781.8 301.5,783.1 303.0,780.0 304.5,781.9 306.0,781.6 307.4,780.6 309.0,781.9 310.6,782.6 312.2,781.1 313.8,781.9 315.3,783.1 316.8,782.9 318.3,782.5 319.8,783.8 321.3,785.4 322.6,785.5 323.8,785.2 325.1,785.7 326.3,786.0 327.5,788.4 328.7,789.6 330.0,788.5 331.2,790.2 332.5,791.0 333.8,791.9 335.2,792.8 336.4,793.5 337.5,794.3 338.7,795.1 340.0,795.9 341.3,796.8 342.5,797.6 343.8,798.5 345.1,799.4 346.5,800.3 347.8,801.3 349.1,802.2 350.5,803.2 351.8,804.1 353.1,805.1 354.4,806.1 355.7,807.0 357.0,808.0 358.3,809.0 359.5,809.9 360.7,810.8 361.8,811.8 363.0,812.7 364.2,813.7 365.4,814.7 366.6,815.7 367.7,816.6 368.9,817.6 370.1,818.6 371.2,819.6 372.4,820.6 373.5,821.6 374.7,822.7 375.8,823.7 377.0,824.7 378.1,825.7 379.3,826.7 380.4,827.7 381.5,828.7 382.7,829.8 383.9,830.9 385.1,832.1 386.3,833.2 387.5,834.4 388.7,835.6 389.8,836.8 391.0,838.0 392.2,839.1 393.3,840.3 394.5,841.5 395.6,842.6 396.8,843.6 397.9,844.7 399.0,845.7 400.1,846.7 401.2,847.6 402.3,848.4 403.6,849.4 404.9,850.2 406.2,851.0 407.5,851.8 408.8,852.5 410.1,853.2 411.3,853.8 412.5,854.5 413.8,855.1 415.0,855.8 416.2,856.5 417.5,857.3 418.8,858.1 420.1,858.8 421.4,859.6 422.6,860.4 423.9,861.1 425.2,861.9 426.5,862.6 427.8,863.4 429.1,864.2 430.5,865.1 431.9,866.0 433.4,866.9 434.8,867.8 436.2,868.6 437.6,869.4 439.0,870.0 440.4,870.5 441.7,870.8 443.3,870.9 444.7,870.7 446.2,870.3 447.6,869.8 449.2,869.4 450.9,869.2 452.2,869.2 453.6,869.2 455.1,869.3 456.7,869.5 458.2,869.6 459.9,869.8 461.5,870.0 463.1,870.1 464.8,870.2 466.3,870.2 467.9,870.1 469.4,869.9 470.9,869.6 472.4,869.2 473.9,868.6 475.3,868.1 476.7,867.4 478.1,866.8 479.6,866.1 481.0,865.4 482.5,864.7 484.0,864.0 485.6,863.4 486.9,862.9 488.3,862.4 489.6,861.9 491.0,861.4 492.4,860.8 493.8,860.3 495.2,859.8 496.7,859.2 498.1,858.7 499.6,858.2 501.1,857.7 502.6,857.2 504.1,856.7 505.7,856.2 507.2,855.7 508.8,855.3 510.3,854.9 511.7,854.5 513.3,854.2 514.8,853.8 516.4,853.5 517.9,853.1 519.5,852.8 521.1,852.5 522.8,852.2 524.4,851.9 526.0,851.6 527.6,851.3 529.2,851.0 530.8,850.7 532.4,850.4 534.0,850.0 535.5,849.7 537.1,849.4 538.5,849.0 540.0,848.7 541.6,848.3 543.2,847.9 544.8,847.4 546.3,847.0 547.8,846.6 549.3,846.1 550.8,845.7 552.3,845.2 553.7,844.8 555.2,844.4 556.7,843.9 558.3,843.5 559.8,843.0 561.4,842.6 563.1,842.2 564.5,841.8 566.0,841.5 567.6,841.1 569.2,840.7 570.8,840.2 572.4,839.8 574.1,839.4 575.8,839.0 577.5,838.6 579.2,838.1 580.9,837.7 582.5,837.4 584.2,837.0 585.8,836.7 587.3,836.4 588.9,836.1 590.3,835.8 591.8,835.6 593.1,835.4 594.4,835.3 595.6,835.2 597.3,835.1 598.8,835.2 600.2,835.3 601.5,835.4 602.9,835.6 604.2,835.8 605.6,836.1 607.1,836.4 608.5,836.7 610.0,837.0 611.5,837.4 613.1,837.9 614.7,838.4 616.4,838.8 618.0,839.3 619.6,839.8 621.2,840.3 622.7,840.7 624.2,841.1 625.6,841.5 627.2,841.9 628.7,842.3 630.2,842.7 631.6,843.1 633.1,843.4 634.4,843.7 635.8,843.9 637.2,844.0 638.8,844.1 640.3,844.1 641.8,844.0 643.3,843.8 644.9,843.6 646.5,843.3 647.8,843.0 649.1,842.6 650.4,842.2 651.8,841.7 653.2,841.2 654.6,840.6 656.0,840.1 657.4,839.6 658.9,839.1 660.4,838.7 661.8,838.3 663.2,838.0 664.6,837.7 666.0,837.4 667.5,837.1 668.9,836.8 670.4,836.5 672.0,836.2 673.6,836.0 675.3,835.7 677.0,835.4 678.9,835.2 680.1,835.0 681.4,834.9 682.7,834.8 684.0,834.6 685.4,834.5 686.8,834.4 688.3,834.2 689.7,834.1 691.2,834.0 692.8,833.9 694.3,833.8 695.9,833.7 697.5,833.6 699.1,833.4 700.7,833.3 702.4,833.2 704.0,833.1 705.7,833.0 707.3,832.9 709.0,832.8 710.6,832.7 712.3,832.6 714.0,832.5 715.6,832.4 717.2,832.3 718.9,832.2 720.5,832.1 722.1,832.0 723.6,831.9 725.2,831.8 726.7,831.7 728.3,831.6 729.8,831.4 731.4,831.3 732.9,831.2 734.5,831.1 736.0,831.0 737.5,830.8 739.1,830.7 740.6,830.6 742.2,830.5 743.7,830.3 745.3,830.2 746.8,830.1 748.3,830.0 749.9,829.9 751.4,829.7 753.0,829.6 754.5,829.5 756.1,829.4 757.6,829.3 759.2,829.1 760.7,829.0 762.2,828.9 763.8,828.8 765.3,828.7 766.9,828.6 768.4,828.5 770.0,828.4 771.5,828.3 773.1,828.2 774.7,828.1 776.3,828.0 777.9,827.9 779.5,827.8 781.1,827.8 782.7,827.7 784.3,827.6 785.9,827.5 787.5,827.4 789.1,827.4 790.7,827.3 792.3,827.2 793.9,827.1 795.5,827.1 797.0,827.0 798.6,826.9 800.2,826.9 801.8,826.8 803.4,826.7 805.0,826.6 806.6,826.6 808.2,826.5 809.8,826.4 811.4,826.3 813.0,826.3 814.6,826.2 816.2,826.1 817.8,826.0 819.4,825.9 821.0,825.8 822.5,825.7 824.1,825.6 825.7,825.5 827.2,825.5 828.8,825.4 830.3,825.3 831.9,825.2 833.4,825.1 835.0,825.0 836.5,824.9 838.1,824.8 839.6,824.7 841.2,824.6 842.7,824.5 844.3,824.4 845.9,824.3 847.5,824.2 849.1,824.1 850.7,824.0 852.3,823.9 853.9,823.8 855.5,823.7 857.2,823.6 858.9,823.5 860.6,823.4 862.3,823.3 864.0,823.2 865.4,823.1 866.9,823.0 868.4,823.0 869.9,822.9 871.4,822.8 872.9,822.7 874.5,822.6 876.0,822.6 877.6,822.5 879.2,822.4 880.7,822.3 882.3,822.2 883.9,822.2 885.6,822.1 887.2,822.0 888.8,821.9 890.4,821.8 892.1,821.8 893.7,821.7 895.4,821.6 897.0,821.5 898.6,821.4 900.3,821.4 901.9,821.3 903.5,821.2 905.2,821.1 906.8,821.0 908.4,821.0 910.0,820.9 911.7,820.8 913.2,820.7 914.8,820.7 916.4,820.6 918.0,820.5 919.5,820.4 921.1,820.3 922.6,820.3 924.1,820.2 925.6,820.1 927.1,820.0 928.6,820.0 930.0,819.9 931.7,819.8 933.4,819.7 935.1,819.6 936.8,819.6 938.5,819.5 940.1,819.4 941.7,819.3 943.4,819.3 945.0,819.2 946.6,819.1 948.2,819.1 949.7,819.0 951.3,818.9 952.9,818.9 954.4,818.8 956.0,818.7 957.6,818.6 959.1,818.6 960.7,818.5 962.2,818.4 963.8,818.3 965.3,818.2 966.9,818.1 968.4,818.0 970.0,817.9 971.6,817.8 973.1,817.7 974.7,817.6 976.3,817.5 977.8,817.4 979.4,817.3 980.9,817.1 982.5,817.0 984.0,816.9 985.6,816.7 987.1,816.6 988.7,816.5 990.2,816.3 991.7,816.2 993.3,816.0 994.8,815.9 996.4,815.7 997.9,815.6 999.5,815.4 1001.0,815.3 1002.5,815.1 1004.1,814.9 1005.6,814.8 1007.2,814.6 1008.7,814.4 1010.3,814.3 1011.8,814.1 1013.3,813.9 1014.9,813.8 1016.4,813.6 1018.0,813.4 1019.5,813.2 1021.1,813.1 1022.6,812.9 1024.1,812.7 1025.7,812.5 1027.2,812.4 1028.8,812.2 1030.3,812.0 1031.9,811.8 1033.4,811.6 1035.0,811.4 1036.5,811.2 1038.0,811.1 1039.6,810.9 1041.1,810.7 1042.7,810.5 1044.2,810.3 1045.8,810.1 1047.3,809.9 1048.8,809.7 1050.4,809.5 1051.9,809.3 1053.5,809.1 1055.0,808.9 1056.6,808.7 1058.1,808.5 1059.6,808.3 1061.2,808.1 1062.7,807.9 1064.3,807.7 1065.8,807.5 1067.4,807.3 1068.9,807.1 1070.5,806.9 1072.0,806.7 1073.6,806.5 1075.2,806.3 1076.8,806.1 1078.4,805.9 1080.0,805.7 1081.7,805.5 1083.3,805.3 1084.9,805.1 1086.6,804.8 1088.2,804.6 1089.8,804.4 1091.4,804.2 1093.0,804.0 1094.6,803.8 1096.2,803.6 1097.8,803.4 1099.4,803.2 1100.9,803.0 1102.5,802.8 1104.0,802.6 1105.5,802.4 1107.0,802.3 1108.4,802.1 1109.8,801.9 1111.2,801.8 1112.6,801.6 1113.9,801.4 1115.2,801.3 1117.0,801.1 1118.7,800.9 1120.5,800.8 1122.1,800.6 1123.8,800.5 1125.4,800.4 1127.0,800.2 1128.5,800.1 1130.0,800.0 1131.5,799.8 1132.9,799.7 1134.3,799.5 1135.7,799.4 1137.0,799.2 1138.3,799.0 1140.0,798.6 1141.6,798.2 1143.1,797.7 1144.5,797.2 1145.9,796.7 1147.3,796.4 1148.7,796.2 1150.0,796.3 1151.4,796.6 1152.8,797.1 1154.2,797.7 1155.5,798.5 1156.8,799.4 1158.0,800.3 1159.2,801.3 1160.2,802.3 1161.1,803.4 1161.9,804.7 1162.6,806.0 1163.4,807.3 1164.2,808.5 1165.1,809.6 1166.1,810.6 1167.3,811.6 1168.6,812.5 1169.9,813.3 1171.3,814.1 1172.7,814.7 1174.1,815.1 1175.4,815.2 1176.7,815.1 1178.0,814.7 1179.2,814.1 1180.5,813.3 1181.8,812.4 1183.2,811.5 1184.6,810.6 1185.7,809.8 1186.9,809.0 1188.1,808.1 1189.3,807.1 1190.5,806.1 1191.8,805.0 1193.0,803.9 1194.3,802.8 1195.6,801.7 1196.9,800.7 1198.2,799.7 1199.5,798.8 1200.8,798.0 1202.1,796.6 1203.5,795.9 1204.8,795.7 1206.2,794.7 1207.6,794.0 1209.0,792.9 1210.4,792.8 1211.7,792.1 1213.1,791.2 1214.4,791.1 1215.7,790.0 1217.0,789.6 1218.5,788.6 1220.0,788.9 1221.5,787.9 1223.0,787.8 1224.4,786.5 1225.8,786.5 1227.2,785.8 1228.6,784.6 1230.0,785.0 1231.3,783.8 1232.7,782.9 1234.0,782.3 1235.3,781.7 1236.6,782.0 1237.9,781.6 1239.1,781.9 1240.3,782.6 1241.4,783.7 1242.6,784.6 1243.7,785.2 1244.8,786.7 1246.0,788.2 1247.1,788.4 1248.3,789.9 1249.5,790.7 1250.7,791.0 1251.9,792.5 1253.0,792.4 1254.2,793.3 1255.3,794.5 1256.4,795.1 1257.4,796.3 1258.3,798.1 1259.1,799.9 1259.9,801.6 1260.7,803.6 1261.5,804.7 1262.4,805.8 1263.4,806.1 1264.5,806.5 1265.5,807.0 1266.6,806.3 1267.9,806.3 1269.2,805.1 1270.5,803.0 1271.9,801.5 1273.3,801.1 1274.6,799.9 1275.9,798.3 1277.1,796.4 1278.2,796.6 1279.2,795.8 1280.0,796.0 1281.1,796.2 1282.0,797.4 1282.7,799.1 1283.5,800.0 1284.1,800.9 1284.7,802.4 1285.2,804.2 1285.8,806.2 1286.5,807.6 1287.2,808.1 1288.1,808.5 1289.2,808.3 1290.5,807.8 1291.9,807.4 1293.3,805.2 1294.7,804.8 1296.1,804.4 1297.4,803.6 1298.6,804.2 1299.8,804.2 1300.9,805.8 1302.0,807.3 1303.1,807.9 1304.3,809.1 1305.5,810.5 1306.7,812.2 1307.9,813.3 1309.1,814.6 1310.3,815.5 1311.4,815.9 1312.4,816.8 1313.2,816.2 1313.9,814.4 1314.6,814.3 1315.1,812.5 1315.7,810.0 1316.3,809.2 1316.9,807.8 1317.6,805.8 1318.4,804.6 1319.2,802.5 1320.0,801.2 1320.8,799.6 1321.7,798.3 1322.5,797.5 1323.4,796.9 1324.7,797.5 1326.0,798.3 1327.5,799.0 1328.5,798.7 1329.5,796.9 1330.7,796.7 1331.9,795.8 1333.1,794.8 1334.3,793.7 1335.6,792.6 1336.8,791.7 1337.9,790.8 1339.2,789.9 1340.5,789.0 1341.9,788.2 1343.1,787.4 1344.4,786.6 1345.5,785.8 1346.5,785.0 1347.5,784.2 1348.4,783.4 1349.2,782.5 1350.0,781.5 1350.7,780.2 1351.4,778.6 1352.1,776.8 1352.8,775.0 1353.6,773.5 1354.3,772.4 1355.1,771.9 1356.1,772.5 1357.1,774.0 1358.2,775.8 1359.2,777.2 1360.3,777.8 1361.0,777.4 1361.8,776.3 1362.6,774.8 1363.3,773.0 1364.1,771.1 1364.9,769.2 1365.6,767.4 1366.3,765.9 1367.0,765.0 1367.6,764.6 1368.3,764.9 1369.0,765.8 1369.7,767.1 1370.3,768.6 1370.8,770.3 1371.3,771.9 1371.6,773.1 1371.9,774.4 1372.1,775.7 1372.3,777.1 1372.5,778.6 1372.6,780.2 1372.7,781.8 1372.8,783.4 1372.9,785.1 1373.1,786.7 1373.2,788.4 1373.3,790.1 1373.5,791.8 1373.6,793.2 1373.8,794.7 1373.9,796.3 1374.1,797.9 1374.2,799.6 1374.4,801.3 1374.5,803.0 1374.7,804.7 1374.8,806.4 1375.0,808.1 1375.1,809.8 1375.3,811.4 1375.4,813.0 1375.6,814.6 1375.8,816.1 1376.0,817.5 1376.1,818.8 1376.3,820.1 1376.5,821.2 1376.8,823.2 1377.2,825.2 1377.5,827.0 1377.9,828.6 1378.3,829.6 1378.7,830.0 1379.1,829.7 1379.4,828.9 1379.8,827.7 1380.2,826.1 1380.6,824.4 1381.0,822.6 1381.5,820.7 1381.9,819.0 1382.4,817.5 1382.9,816.0 1383.5,814.4 1384.0,812.7 1384.6,810.9 1385.2,809.3 1385.8,807.9 1386.4,806.7 1387.0,806.0 1387.5,805.7 1388.2,806.0 1388.8,807.0 1389.4,808.4 1390.0,810.1 1390.6,812.0 1391.2,813.8 1391.5,814.9 1391.8,816.1 1392.1,817.4 1392.4,818.8 1392.7,820.3 1392.9,821.8 1393.2,823.3 1393.4,824.9 1393.7,826.5 1393.9,828.2 1394.2,829.8 1394.4,831.5 1394.6,833.2 1394.9,834.8 1395.1,836.4 1395.3,838.0 1395.6,839.6 1395.8,841.2 1396.0,842.9 1396.2,844.7 1396.4,846.6 1396.6,848.5 1396.8,850.5 1396.9,852.5 1397.1,854.4 1397.3,856.3 1397.5,858.2 1397.7,859.9 1397.9,861.5 1398.2,862.9 1398.5,864.2 1398.8,865.2 1399.1,866.0 1399.6,866.5 1400.0,866.8 1400.6,866.6 1401.4,865.7 1402.2,864.4 1403.0,862.7 1403.9,860.9 1404.8,858.9 1405.7,857.0 1406.6,855.4 1407.5,854.1 1408.3,853.2 1409.1,853.0 1409.5,853.2 1409.9,853.6 1410.3,854.2 1410.7,855.1 1411.1,856.1 1411.5,857.3 1411.8,858.6 1412.2,860.1 1412.6,861.7 1412.9,863.5 1413.3,865.4 1413.6,867.3 1414.0,869.4 1414.3,871.5 1414.7,873.7 1415.0,875.9 1415.3,878.2 1415.6,880.5 1416.0,882.8 1416.3,885.1 1416.6,887.4 1416.9,889.6 1417.2,891.8 1417.5,894.0 1417.9,896.1 1418.2,898.2 1418.5,900.1 1418.8,901.9 1419.1,903.7 1419.4,905.3 1419.7,906.7 1420.0,908.0 1420.3,909.2 1420.6,910.1 1421.0,910.9 1421.3,911.5 1421.6,911.9 1421.9,912.0 1422.4,911.7 1423.0,910.8 1423.5,909.4 1424.1,907.6 1424.6,905.6 1425.2,903.4 1425.7,901.1 1426.2,898.9 1426.8,896.9 1427.3,895.1 1427.8,893.7 1428.3,892.7 1428.8,892.4 1429.4,892.9 1429.9,894.2 1430.4,896.0 1430.9,898.1 1431.5,900.3 1432.0,902.1 1432.7,903.5 1433.4,904.0 1434.0,903.8 1434.6,903.3 1435.3,902.5 1436.1,901.4 1436.8,900.1 1437.6,898.5 1438.5,896.8 1439.3,895.1 1440.1,893.2 1441.0,891.3 1441.8,889.5 1442.6,887.6 1443.4,885.9 1444.2,884.4 1445.0,883.0 1445.8,881.7 1446.6,880.4 1447.4,879.2 1448.3,878.0 1449.1,876.8 1449.9,875.7 1450.7,874.5 1451.5,873.3 1452.2,872.1 1453.0,870.8 1453.6,869.4 1454.3,868.0 1454.8,866.7 1455.3,865.4 1455.7,864.1 1456.1,862.7 1456.5,861.3 1456.8,859.8 1457.2,858.3 1457.5,856.8 1457.8,855.3 1458.2,853.7 1458.5,852.2 1458.8,850.6 1459.1,849.1 1459.5,847.5 1459.9,846.0 1460.3,844.4 1460.7,842.9 1461.2,841.4 1461.7,840.0 1462.2,838.5 1462.7,837.0 1463.2,835.4 1463.7,833.9 1464.2,832.3 1464.8,830.8 1465.3,829.2 1465.9,827.7 1466.4,826.1 1467.0,824.6 1467.6,823.1 1468.2,821.6 1468.8,820.2 1469.5,818.8 1470.1,817.4 1470.8,816.1 1471.4,814.8 1472.1,813.6 1472.8,812.5 1473.8,811.0 1474.8,809.4 1475.8,807.9 1476.9,806.4 1477.9,805.0 1479.0,803.7 1480.1,802.5 1481.2,801.5 1482.3,800.7 1483.4,800.1 1484.4,799.8 1485.8,800.0 1487.1,800.9 1488.5,802.2 1489.8,803.4 1491.2,804.3 1492.5,804.4 1493.3,804.0 1494.2,803.3 1495.0,802.4 1495.8,801.2 1496.6,799.8 1497.5,798.3 1498.3,796.7 1499.1,795.0 1499.9,793.3 1500.8,791.6 1501.6,790.0 1502.5,788.4 1503.4,787.0 1504.3,785.7 1505.2,784.7 1506.4,783.6 1507.6,782.5 1508.8,781.5 1510.1,780.5 1511.4,779.7 1512.7,779.0 1514.0,778.4 1515.4,778.0 1516.8,777.8 1518.2,777.8 1519.6,778.0 1521.1,778.4 1522.6,778.9 1524.1,779.6 1525.6,780.3 1527.2,781.0 1528.7,781.8 1530.2,782.5 1531.6,783.1 1533.0,783.6 1534.5,784.0 1536.1,784.4 1537.6,784.6 1539.1,784.9 1540.5,785.2 1541.9,785.6 1543.2,786.2 1544.5,787.0 1545.5,787.8 1546.5,788.8 1547.4,789.8 1548.3,790.9 1549.2,792.1 1550.0,793.4 1550.8,794.8 1551.6,796.2 1552.3,797.8 1553.1,799.4 1553.8,801.0 1554.3,802.1 1554.7,803.3 1555.1,804.6 1555.5,806.0 1555.9,807.4 1556.2,808.8 1556.6,810.3 1556.9,811.8 1557.3,813.4 1557.6,815.0 1557.9,816.6 1558.2,818.3 1558.5,819.9 1558.8,821.6 1559.1,823.2 1559.4,824.9 1559.7,826.6 1560.0,828.2 1560.3,829.8 1560.7,831.4 1561.0,833.0 1561.4,834.6 1561.7,836.1 1562.1,837.5 1562.6,838.9 1563.0,840.3 1563.6,841.9 1564.1,843.4 1564.7,844.9 1565.3,846.4 1565.9,847.9 1566.5,849.3 1567.1,850.7 1567.8,852.1 1568.4,853.5 1569.1,854.9 1569.7,856.3 1570.4,857.6 1571.1,859.0 1571.8,860.3 1572.5,861.6 1573.2,863.0 1573.9,864.3 1574.6,865.7 1575.4,867.1 1576.1,868.5 1576.9,870.0 1577.8,871.4 1578.6,872.8 1579.4,874.3 1580.3,875.7 1581.1,877.1 1582.0,878.5 1582.8,879.9 1583.7,881.2 1584.5,882.6 1585.3,883.9 1586.2,885.2 1587.0,886.5 1587.7,887.7 1588.5,888.9 1589.4,890.3 1590.3,891.6 1591.2,892.9 1592.0,894.1 1592.9,895.3 1593.7,896.5 1594.6,897.7 1595.4,898.9 1596.2,900.1 1597.0,901.4 1597.8,902.8 1598.5,904.1 1599.1,905.6 1599.8,907.1 1600.4,908.6 1601.0,910.2 1601.6,911.9 1602.2,913.5 1602.8,915.1 1603.4,916.6 1604.0,918.0 1604.7,919.4 1605.4,920.6 1606.2,921.6 1607.0,922.5 1608.2,923.4 1609.5,924.0 1610.9,924.4 1612.2,924.7 1613.6,925.0 1615.0,925.4 1616.3,926.0 1617.5,926.8 1618.6,927.7 1619.7,928.8 1620.8,929.8 1622.0,930.9 1623.1,932.0 1624.3,933.1 1625.6,934.0 1626.9,934.9 1628.2,935.9 1629.6,936.9 1631.1,938.0 1632.5,939.0 1634.0,939.8 1635.4,940.5 1636.8,941.0 1638.2,941.2 1639.4,941.0 1640.3,940.6 1641.1,939.9 1641.9,939.0 1642.7,938.0 1643.4,936.7 1644.1,935.3 1644.8,933.8 1645.4,932.2 1646.1,930.6 1646.7,928.8 1647.4,927.1 1648.0,925.4 1648.7,923.7 1649.5,922.0 1650.2,920.5 1651.0,919.0 1651.8,917.6 1652.6,916.2 1653.4,914.6 1654.2,913.1 1655.0,911.4 1655.8,909.8 1656.7,908.1 1657.5,906.4 1658.4,904.8 1659.3,903.2 1660.2,901.6 1661.0,900.2 1661.9,898.8 1662.8,897.5 1663.7,896.4 1664.6,895.4 1665.5,894.6 1666.3,893.9 1667.2,893.5 1668.8,893.1 1670.3,893.1 1671.9,893.5 1673.5,894.1 1675.0,894.9 1676.5,895.8 1677.5,896.6 1678.5,897.6 1679.5,898.8 1680.4,900.2 1681.4,901.6 1682.3,903.1 1683.2,904.6 1684.1,906.1 1685.1,907.5 1686.0,908.8 1687.0,910.0 1688.0,910.9 1689.3,911.8 1690.7,912.5 1692.1,913.0 1693.5,913.4 1694.8,913.9 1696.1,914.6 1697.3,915.5 1698.2,916.5 1699.0,917.5 1699.7,918.7 1700.4,920.0 1701.1,921.4 1701.7,922.7 1702.3,924.1 1703.0,925.5 1703.6,926.9 1704.3,928.2"/>
<polyline fill="none" stroke="#ff0000" stroke-width="5.7" stroke-linejoin="round" stroke-linecap="round" points="157.0,968.9 158.6,968.9 160.1,969.0 161.7,969.1 163.3,968.4 164.8,969.2 166.4,968.3 167.9,968.8 169.5,968.2 171.0,968.8 172.6,968.1 174.1,968.7 175.7,968.6 177.2,968.6 178.8,968.3 180.4,968.7 181.9,968.7 183.5,967.8 185.1,968.2 186.6,968.5 188.2,968.3 189.8,967.9 191.4,967.7 193.0,968.3 194.7,967.4 196.3,968.0 197.8,968.0 199.4,967.2 201.0,967.3 202.5,967.2 204.1,967.3 205.7,967.1 207.4,967.5 209.0,967.4 210.6,966.7 212.2,967.2 213.9,966.3 215.5,966.2 217.2,966.6 218.8,966.7 220.5,966.6 222.1,966.6 223.7,966.4 225.4,965.7 227.0,966.1 228.6,966.1 230.2,965.2 231.8,965.5 233.4,965.0 235.0,964.9 236.5,965.1 238.1,965.2 239.6,965.4 241.1,964.4 242.6,964.7 244.3,965.1 246.0,964.7 247.7,964.4 249.3,964.0 251.0,964.2 252.7,963.7 254.3,964.0 256.0,963.9 257.6,963.5 259.2,963.8 260.8,963.2 262.4,963.2 264.0,963.4 265.5,962.7 267.1,962.5 268.6,962.8 270.1,962.5 271.6,962.8 273.1,962.1 274.5,962.1 275.9,961.7 277.3,962.0 279.0,961.7 280.6,961.6 282.2,961.8 283.8,960.9 285.4,961.6 286.9,961.2 288.4,961.1 289.9,960.7 291.3,960.6 292.8,960.3 294.1,960.1 295.5,959.9 296.8,959.9 298.1,959.9 299.7,959.9 301.2,960.5 302.7,960.5 304.1,960.4 305.5,959.9 306.9,960.3 308.3,960.9 309.7,961.5 310.9,961.7 312.2,962.4 313.4,963.3 314.6,963.3 315.8,964.1 317.1,965.3 318.3,965.6 319.6,966.9 320.9,967.5 322.2,968.5 323.6,969.4 324.7,970.2 325.8,971.0 327.0,971.8 328.2,972.7 329.4,973.6 330.6,974.5 331.8,975.5 333.0,976.5 334.3,977.5 335.6,978.5 336.8,979.5 338.1,980.6 339.3,981.6 340.6,982.7 341.9,983.7 343.1,984.8 344.4,985.8 345.6,986.9 346.8,987.9 348.0,988.9 349.2,989.9 350.3,990.9 351.5,992.0 352.7,993.0 353.9,994.0 355.1,995.1 356.3,996.1 357.5,997.2 358.6,998.2 359.8,999.3 361.0,1000.3 362.1,1001.4 363.3,1002.4 364.4,1003.5 365.6,1004.5 366.7,1005.6 367.8,1006.6 368.9,1007.7 370.0,1008.7 371.2,1009.8 372.3,1010.9 373.4,1012.1 374.5,1013.2 375.6,1014.4 376.7,1015.6 377.8,1016.7 378.9,1017.9 380.0,1019.0 381.1,1020.1 382.1,1021.2 383.2,1022.3 384.2,1023.3 385.3,1024.4 386.3,1025.3 387.4,1026.3 388.4,1027.2 389.7,1028.3 391.0,1029.3 392.2,1030.3 393.5,1031.3 394.7,1032.2 396.0,1033.1 397.2,1033.9 398.5,1034.8 399.7,1035.5 401.0,1036.3 402.3,1037.0 403.7,1037.7 405.0,1038.4 406.4,1039.0 407.8,1039.6 409.2,1040.2 410.7,1040.7 412.1,1041.1 413.5,1041.6 414.8,1042.0 416.2,1042.3 417.7,1042.6 419.1,1042.8 420.6,1042.9 422.0,1043.0 423.4,1043.1 424.8,1043.1 426.3,1043.2 427.8,1043.4 429.3,1043.6 430.8,1044.0 432.4,1044.3 433.9,1044.7 435.5,1045.1 437.0,1045.4 438.6,1045.6 440.2,1045.7 441.7,1045.7 443.1,1045.5 444.5,1045.2 445.8,1044.7 447.2,1044.2 448.6,1043.6 449.9,1043.0 451.3,1042.4 452.7,1041.9 454.2,1041.5 455.6,1041.1 457.0,1040.9 458.4,1040.7 459.8,1040.7 461.3,1040.7 462.7,1040.7 464.2,1040.7 465.6,1040.7 467.1,1040.6 468.7,1040.5 470.2,1040.3 471.8,1040.0 473.1,1039.7 474.4,1039.3 475.8,1038.8 477.1,1038.3 478.5,1037.8 479.9,1037.2 481.4,1036.6 482.8,1036.0 484.3,1035.3 485.7,1034.7 487.2,1034.0 488.6,1033.3 490.1,1032.6 491.5,1032.0 493.0,1031.3 494.4,1030.7 495.8,1030.1 497.2,1029.5 498.7,1028.9 500.2,1028.3 501.6,1027.7 503.1,1027.0 504.6,1026.4 506.0,1025.8 507.5,1025.1 508.9,1024.5 510.4,1023.9 511.8,1023.3 513.3,1022.8 514.7,1022.2 516.1,1021.7 517.6,1021.2 519.0,1020.7 520.4,1020.3 521.9,1019.9 523.5,1019.5 525.0,1019.2 526.5,1018.9 528.0,1018.6 529.4,1018.3 530.9,1018.1 532.4,1017.9 533.9,1017.6 535.4,1017.3 536.9,1017.1 538.4,1016.8 540.0,1016.4 541.5,1016.0 543.0,1015.7 544.5,1015.3 546.0,1014.8 547.5,1014.4 549.0,1014.0 550.5,1013.5 552.0,1013.1 553.6,1012.6 555.1,1012.2 556.7,1011.7 558.3,1011.3 559.9,1010.8 561.5,1010.4 563.1,1009.9 564.5,1009.5 566.0,1009.1 567.5,1008.6 569.0,1008.2 570.6,1007.7 572.2,1007.2 573.8,1006.8 575.4,1006.3 577.0,1005.8 578.6,1005.3 580.2,1004.9 581.8,1004.4 583.3,1004.0 584.9,1003.6 586.4,1003.3 587.8,1002.9 589.3,1002.6 590.6,1002.4 591.9,1002.2 593.2,1002.0 595.0,1001.8 596.7,1001.7 598.3,1001.7 599.8,1001.7 601.3,1001.7 602.8,1001.8 604.2,1002.0 605.7,1002.2 607.1,1002.5 608.6,1002.9 610.1,1003.4 611.5,1004.1 612.9,1004.7 614.3,1005.4 615.7,1006.1 617.2,1006.6 618.7,1007.1 620.2,1007.4 621.7,1007.7 623.2,1007.9 624.7,1008.1 626.3,1008.2 627.8,1008.3 629.4,1008.4 631.0,1008.5 632.6,1008.5 634.0,1008.5 635.5,1008.6 637.0,1008.6 638.5,1008.6 640.1,1008.5 641.6,1008.5 643.1,1008.4 644.6,1008.2 646.0,1008.1 647.4,1007.9 648.8,1007.6 650.3,1007.2 651.8,1006.7 653.2,1006.1 654.6,1005.4 655.9,1004.8 657.3,1004.1 658.8,1003.5 660.4,1003.0 661.8,1002.6 663.1,1002.3 664.5,1002.0 665.9,1001.7 667.3,1001.4 668.8,1001.2 670.4,1000.9 671.9,1000.7 673.6,1000.4 675.3,1000.2 677.0,1000.0 678.9,999.7 680.1,999.5 681.4,999.4 682.7,999.2 684.0,999.0 685.4,998.9 686.8,998.7 688.3,998.5 689.7,998.4 691.2,998.2 692.8,998.1 694.3,997.9 695.9,997.7 697.5,997.6 699.1,997.4 700.7,997.3 702.4,997.1 704.0,997.0 705.7,996.8 707.3,996.6 709.0,996.5 710.6,996.3 712.3,996.2 714.0,996.1 715.6,995.9 717.2,995.8 718.9,995.6 720.5,995.5 722.1,995.4 723.6,995.2 725.2,995.1 726.7,995.0 728.3,994.8 729.8,994.7 731.4,994.6 732.9,994.5 734.5,994.4 736.0,994.3 737.5,994.1 739.1,994.0 740.6,993.9 742.2,993.8 743.7,993.7 745.3,993.6 746.8,993.5 748.3,993.4 749.9,993.3 751.4,993.2 753.0,993.1 754.5,993.0 756.1,992.9 757.6,992.8 759.1,992.7 760.7,992.6 762.2,992.5 763.8,992.4 765.3,992.4 766.9,992.3 768.4,992.2 770.0,992.1 771.5,992.0 773.1,991.9 774.7,991.8 776.3,991.7 777.9,991.7 779.5,991.6 781.1,991.5 782.7,991.4 784.3,991.3 785.9,991.3 787.5,991.2 789.1,991.1 790.7,991.0 792.3,991.0 793.9,990.9 795.5,990.8 797.0,990.7 798.6,990.7 800.2,990.6 801.8,990.5 803.4,990.5 805.0,990.4 806.6,990.3 808.2,990.2 809.8,990.2 811.4,990.1 813.0,990.0 814.6,990.0 816.2,989.9 817.8,989.8 819.4,989.7 821.0,989.6 822.5,989.6 824.1,989.5 825.7,989.4 827.2,989.3 828.8,989.2 830.3,989.1 831.9,989.1 833.4,989.0 835.0,988.9 836.5,988.8 838.1,988.7 839.6,988.6 841.2,988.6 842.7,988.5 844.3,988.4 845.9,988.3 847.5,988.2 849.1,988.1 850.7,988.1 852.3,988.0 853.9,987.9 855.5,987.8 857.2,987.8 858.9,987.7 860.6,987.6 862.3,987.6 864.0,987.5 865.4,987.4 866.9,987.4 868.3,987.4 869.8,987.3 871.3,987.3 872.8,987.2 874.3,987.2 875.8,987.2 877.3,987.1 878.9,987.1 880.4,987.0 882.0,987.0 883.5,987.0 885.1,987.0 886.6,986.9 888.2,986.9 889.8,986.9 891.4,986.8 893.0,986.8 894.6,986.8 896.2,986.8 897.8,986.7 899.4,986.7 901.0,986.7 902.6,986.6 904.2,986.6 905.8,986.6 907.4,986.6 909.1,986.5 910.7,986.5 912.3,986.5 913.9,986.4 915.5,986.4 917.2,986.4 918.8,986.3 920.4,986.3 922.0,986.2 923.6,986.2 925.2,986.1 926.8,986.1 928.4,986.1 930.0,986.0 931.6,985.9 933.1,985.9 934.7,985.8 936.2,985.8 937.8,985.7 939.4,985.7 940.9,985.6 942.5,985.6 944.1,985.5 945.7,985.5 947.2,985.4 948.8,985.4 950.4,985.3 952.0,985.3 953.5,985.2 955.1,985.2 956.7,985.1 958.3,985.0 959.9,985.0 961.4,984.9 963.0,984.9 964.6,984.8 966.2,984.7 967.8,984.7 969.3,984.6 970.9,984.5 972.5,984.5 974.1,984.4 975.7,984.3 977.3,984.2 978.8,984.2 980.4,984.1 982.0,984.0 983.6,983.9 985.2,983.9 986.8,983.8 988.3,983.7 989.9,983.6 991.5,983.5 993.1,983.4 994.7,983.3 996.2,983.2 997.8,983.1 999.4,983.0 1001.0,982.9 1002.6,982.8 1004.2,982.7 1005.8,982.5 1007.4,982.4 1009.0,982.3 1010.6,982.2 1012.2,982.0 1013.9,981.9 1015.5,981.7 1017.1,981.6 1018.7,981.4 1020.4,981.3 1022.0,981.1 1023.6,981.0 1025.3,980.8 1026.9,980.7 1028.5,980.5 1030.2,980.4 1031.8,980.2 1033.4,980.0 1035.0,979.9 1036.6,979.7 1038.3,979.6 1039.9,979.4 1041.5,979.2 1043.1,979.1 1044.7,978.9 1046.2,978.8 1047.8,978.6 1049.4,978.5 1051.0,978.3 1052.5,978.1 1054.1,978.0 1055.6,977.9 1057.1,977.7 1058.6,977.6 1060.1,977.4 1061.6,977.3 1063.1,977.2 1064.6,977.1 1066.0,976.9 1067.5,976.8 1068.9,976.7 1070.7,976.6 1072.4,976.4 1074.2,976.3 1075.9,976.1 1077.7,975.9 1079.4,975.8 1081.2,975.6 1082.9,975.4 1084.7,975.3 1086.4,975.1 1088.1,974.9 1089.8,974.8 1091.5,974.6 1093.1,974.5 1094.8,974.3 1096.4,974.2 1098.0,974.1 1099.6,974.0 1101.2,973.9 1102.7,973.8 1104.2,973.7 1105.7,973.6 1107.2,973.6 1108.6,973.6 1110.0,973.5 1111.3,973.6 1112.7,973.6 1113.9,973.6 1115.2,973.7 1117.1,973.9 1118.8,974.2 1120.5,974.5 1122.1,974.9 1123.7,975.4 1125.2,975.8 1126.6,976.3 1128.1,976.7 1129.5,977.0 1130.9,977.3 1132.3,977.4 1133.7,977.4 1135.2,977.2 1136.7,976.9 1138.1,976.4 1139.5,975.8 1141.0,975.2 1142.3,974.6 1143.7,974.1 1145.0,973.6 1146.3,973.3 1147.6,973.2 1149.0,973.2 1150.4,973.3 1151.7,973.6 1153.0,973.9 1154.3,974.4 1155.6,974.9 1156.9,975.6 1158.0,976.3 1159.2,977.2 1160.3,978.2 1161.5,979.3 1162.7,980.5 1163.9,981.7 1165.1,983.0 1166.3,984.2 1167.4,985.4 1168.5,986.5 1169.6,987.5 1170.7,988.3 1172.1,989.4 1173.5,990.5 1174.8,991.5 1176.1,992.3 1177.5,992.8 1178.8,992.9 1179.8,992.6 1180.8,991.9 1181.8,991.0 1182.8,989.9 1183.7,988.7 1184.7,987.4 1185.8,986.0 1186.9,984.7 1188.1,983.5 1189.3,982.5 1190.5,981.7 1191.8,980.8 1193.1,980.0 1194.5,979.2 1195.9,978.5 1197.4,977.7 1198.8,977.0 1200.3,976.3 1201.8,975.6 1203.3,975.0 1204.8,974.3 1206.3,973.8 1207.8,973.2 1209.3,972.7 1210.9,972.1 1212.5,971.7 1214.1,971.2 1215.7,970.8 1217.3,970.4 1218.8,970.0 1220.4,969.7 1221.9,969.4 1223.4,969.1 1224.9,968.8 1226.3,968.6 1227.9,968.3 1229.4,968.0 1230.9,967.7 1232.3,967.5 1233.7,967.3 1235.1,967.3 1236.5,967.3 1237.9,967.5 1239.2,967.8 1240.5,968.4 1241.8,969.0 1243.1,969.7 1244.4,970.5 1245.7,971.3 1246.9,972.0 1248.2,972.7 1249.4,973.2 1250.8,973.6 1252.2,974.0 1253.6,974.2 1255.0,974.5 1256.3,974.7 1257.5,975.1 1258.7,975.6 1260.0,976.6 1261.1,977.8 1262.2,979.1 1263.3,980.1 1264.5,980.6 1265.8,980.5 1267.1,979.9 1268.5,979.0 1270.0,978.1 1271.4,977.4 1272.7,976.8 1274.1,976.2 1275.5,975.6 1276.8,975.1 1278.2,974.8 1279.5,974.9 1280.7,975.5 1281.9,976.6 1283.0,978.0 1284.1,979.5 1285.2,980.9 1286.4,982.0 1287.6,982.5 1288.9,982.4 1290.2,981.8 1291.6,980.8 1293.0,979.8 1294.4,978.8 1295.7,978.1 1296.9,977.9 1298.1,978.2 1299.2,978.9 1300.3,979.7 1301.4,980.6 1302.7,981.3 1303.9,981.8 1305.2,982.4 1306.6,983.0 1308.0,983.4 1309.4,983.8 1310.7,983.9 1312.0,983.7 1313.1,983.2 1314.1,982.4 1315.1,981.3 1316.0,980.1 1317.0,978.7 1317.9,977.4 1318.9,976.2 1320.0,975.2 1321.2,974.4 1322.5,973.9 1323.8,973.5 1325.2,973.3 1326.7,973.2 1328.1,973.1 1329.6,973.0 1331.1,972.9 1332.5,972.7 1333.9,972.4 1335.4,971.9 1337.0,971.4 1338.6,970.8 1340.1,970.2 1341.6,969.6 1343.0,969.0 1344.3,968.4 1345.5,967.8 1346.8,967.2 1347.9,966.6 1348.9,966.0 1350.0,965.3 1351.0,964.4 1352.0,963.3 1353.0,962.2 1353.9,961.4 1354.9,961.1 1356.1,961.8 1357.2,963.2 1358.4,964.7 1359.7,965.3 1360.7,964.9 1361.8,963.9 1363.0,962.5 1364.2,961.0 1365.3,959.6 1366.4,958.6 1367.4,958.3 1368.5,958.7 1369.5,959.6 1370.5,960.9 1371.4,962.4 1372.2,963.9 1372.7,965.0 1373.1,966.3 1373.4,967.6 1373.7,969.0 1374.0,970.5 1374.2,972.0 1374.5,973.5 1374.7,974.9 1375.0,976.4 1375.3,978.0 1375.5,979.8 1375.8,981.8 1376.0,983.7 1376.2,985.5 1376.5,987.2 1376.9,988.6 1377.3,989.7 1377.8,990.3 1379.1,990.4 1380.6,989.6 1381.3,988.8 1382.0,987.5 1382.7,985.9 1383.3,984.2 1384.0,982.4 1384.7,980.7 1385.4,979.3 1386.1,978.3 1386.8,977.8 1388.0,978.1 1389.2,979.1 1390.3,980.6 1390.8,981.5 1391.3,982.7 1391.7,984.0 1392.1,985.4 1392.5,987.0 1392.9,988.6 1393.3,990.3 1393.6,992.1 1394.0,993.8 1394.4,995.5 1394.7,997.1 1395.1,998.6 1395.5,1000.2 1395.8,1001.9 1396.1,1003.6 1396.5,1005.4 1396.8,1007.2 1397.1,1008.9 1397.4,1010.4 1397.8,1011.8 1398.3,1013.0 1398.7,1014.0 1399.3,1014.6 1400.4,1015.0 1401.6,1015.0 1402.8,1014.6 1403.9,1013.8 1405.0,1012.6 1406.1,1011.2 1407.2,1010.1 1408.3,1009.7 1409.4,1010.1 1410.5,1011.0 1411.5,1012.3 1412.5,1013.9 1413.0,1014.9 1413.5,1016.1 1414.0,1017.4 1414.5,1018.8 1414.9,1020.3 1415.3,1021.9 1415.8,1023.5 1416.2,1025.2 1416.6,1026.9 1417.0,1028.5 1417.3,1030.2 1417.7,1031.8 1418.1,1033.3 1418.5,1034.9 1418.8,1036.7 1419.1,1038.6 1419.4,1040.6 1419.7,1042.6 1420.0,1044.5 1420.3,1046.3 1420.7,1047.9 1421.0,1049.2 1421.4,1050.3 1421.8,1051.1 1422.2,1051.4 1423.0,1051.1 1423.9,1050.1 1424.9,1048.7 1425.7,1047.2 1426.3,1045.9 1426.8,1044.2 1427.2,1042.4 1427.7,1040.6 1428.2,1039.0 1428.6,1037.9 1429.2,1037.5 1429.8,1038.0 1430.5,1039.2 1431.1,1040.9 1431.8,1042.6 1432.5,1043.9 1433.3,1044.4 1434.0,1044.1 1434.7,1043.4 1435.5,1042.3 1436.3,1040.9 1437.1,1039.3 1437.9,1037.7 1438.8,1036.1 1439.5,1034.6 1440.3,1033.3 1441.1,1032.0 1441.9,1030.8 1442.6,1029.6 1443.4,1028.4 1444.1,1027.2 1444.9,1026.1 1445.8,1025.0 1446.7,1024.0 1447.8,1023.0 1448.9,1022.1 1449.9,1021.2 1451.0,1020.3 1452.0,1019.3 1452.8,1018.1 1453.4,1016.9 1454.0,1015.6 1454.5,1014.2 1454.9,1012.8 1455.3,1011.3 1455.7,1009.9 1456.0,1008.4 1456.4,1007.0 1456.9,1005.6 1457.4,1004.2 1457.9,1002.9 1458.3,1001.7 1458.8,1000.4 1459.3,999.1 1459.9,997.8 1460.5,996.5 1461.1,995.1 1461.7,993.9 1462.3,992.5 1462.9,991.2 1463.6,989.8 1464.2,988.4 1464.9,986.9 1465.7,985.5 1466.4,984.2 1467.3,982.8 1468.1,981.5 1469.0,980.3 1470.0,979.2 1471.1,978.1 1472.3,976.9 1473.6,975.8 1475.0,974.7 1476.3,973.6 1477.7,972.7 1479.2,971.8 1480.5,971.0 1481.9,970.4 1483.2,969.9 1484.4,969.6 1485.8,969.6 1487.2,969.9 1488.5,970.4 1489.8,971.0 1491.1,971.3 1492.5,971.2 1493.6,970.8 1494.7,970.1 1495.9,969.2 1497.0,968.1 1498.2,966.9 1499.4,965.7 1500.6,964.5 1501.7,963.3 1502.9,962.3 1504.1,961.4 1505.2,960.8 1506.7,960.2 1508.2,959.9 1509.7,959.7 1511.2,959.6 1512.8,959.6 1514.4,959.7 1515.8,959.8 1517.3,960.1 1518.9,960.4 1520.5,960.8 1522.1,961.3 1523.7,961.7 1525.2,962.2 1526.8,962.7 1528.3,963.1 1529.8,963.5 1531.4,963.8 1532.9,964.1 1534.4,964.4 1535.8,964.8 1537.2,965.3 1538.6,965.8 1539.9,966.6 1541.0,967.4 1542.0,968.3 1543.0,969.3 1544.0,970.5 1544.9,971.6 1545.8,972.9 1546.6,974.2 1547.5,975.5 1548.3,976.8 1549.2,978.2 1549.9,979.4 1550.7,980.7 1551.4,982.0 1552.1,983.3 1552.7,984.7 1553.4,986.2 1554.1,987.6 1554.7,989.1 1555.4,990.5 1556.0,992.0 1556.6,993.5 1557.2,995.0 1557.8,996.4 1558.4,997.9 1559.0,999.4 1559.5,1000.8 1560.0,1002.3 1560.4,1003.8 1560.9,1005.3 1561.3,1006.7 1561.7,1008.2 1562.2,1009.7 1562.6,1011.2 1563.1,1012.7 1563.6,1014.2 1564.1,1015.7 1564.7,1017.2 1565.4,1018.7 1566.1,1020.1 1566.7,1021.4 1567.5,1022.8 1568.2,1024.1 1569.0,1025.5 1569.8,1026.9 1570.7,1028.2 1571.5,1029.6 1572.4,1030.9 1573.3,1032.3 1574.2,1033.7 1575.0,1035.0 1575.9,1036.4 1576.8,1037.8 1577.6,1039.1 1578.5,1040.5 1579.3,1041.9 1580.1,1043.2 1580.9,1044.6 1581.6,1045.9 1582.4,1047.3 1583.2,1048.6 1584.0,1050.0 1584.8,1051.3 1585.6,1052.7 1586.3,1054.0 1587.1,1055.4 1587.9,1056.7 1588.6,1058.1 1589.4,1059.5 1590.2,1060.8 1590.9,1062.2 1591.6,1063.5 1592.4,1064.9 1593.1,1066.2 1593.8,1067.6 1594.5,1069.1 1595.2,1070.6 1595.8,1072.2 1596.5,1073.8 1597.1,1075.4 1597.8,1077.0 1598.4,1078.6 1599.0,1080.2 1599.7,1081.7 1600.3,1083.1 1601.0,1084.4 1601.7,1085.7 1602.4,1086.8 1603.1,1087.8 1603.9,1088.6 1604.7,1089.3 1606.1,1090.0 1607.7,1090.2 1609.2,1090.2 1610.8,1090.1 1612.4,1090.1 1614.0,1090.5 1615.3,1091.1 1616.5,1091.9 1617.8,1092.7 1619.1,1093.7 1620.4,1094.8 1621.6,1095.8 1622.9,1096.8 1624.3,1097.8 1625.6,1098.6 1627.0,1099.4 1628.4,1100.4 1629.9,1101.4 1631.4,1102.4 1632.9,1103.3 1634.3,1104.0 1635.7,1104.4 1637.1,1104.6 1638.3,1104.4 1639.2,1103.9 1640.0,1103.2 1640.8,1102.3 1641.5,1101.1 1642.1,1099.8 1642.8,1098.4 1643.4,1096.8 1644.0,1095.2 1644.6,1093.5 1645.2,1091.7 1645.8,1090.0 1646.5,1088.2 1647.2,1086.6 1647.9,1085.0 1648.7,1083.5 1649.4,1082.2 1650.2,1080.8 1651.0,1079.3 1651.8,1077.8 1652.6,1076.3 1653.5,1074.7 1654.3,1073.1 1655.2,1071.5 1656.1,1069.9 1656.9,1068.4 1657.8,1066.9 1658.7,1065.5 1659.6,1064.2 1660.5,1063.0 1661.4,1062.0 1662.3,1061.0 1663.2,1060.2 1664.0,1059.6 1664.9,1059.2 1666.4,1058.8 1668.0,1058.8 1669.6,1059.2 1671.1,1059.8 1672.7,1060.6 1674.2,1061.5 1675.2,1062.2 1676.2,1063.1 1677.2,1064.2 1678.2,1065.4 1679.1,1066.7 1680.1,1068.1 1681.1,1069.5 1682.1,1070.9 1683.1,1072.3 1684.1,1073.6 1685.1,1074.8 1686.0,1075.9 1687.0,1076.9 1688.0,1077.7 1689.4,1078.5 1690.7,1079.1 1692.1,1079.5 1693.5,1079.8 1694.8,1080.2 1696.1,1080.6 1697.3,1081.2 1698.6,1082.0 1699.8,1083.0 1700.9,1084.0 1702.0,1085.0 1703.2,1086.0 1704.3,1087.0"/>
<polyline fill="none" stroke="#000000" stroke-width="5.7" stroke-linejoin="round" stroke-linecap="round" points="158.1,1212.0 158.1,1122.8 158.7,1121.6 159.3,1120.3 159.9,1119.1 160.6,1118.0 161.6,1117.0 162.6,1116.6 163.8,1115.6 165.1,1115.6 166.6,1114.0 168.1,1114.8 169.7,1113.9 171.4,1114.0 173.1,1113.0 174.4,1113.2 175.8,1112.9 177.2,1112.9 178.7,1113.6 180.2,1113.1 181.8,1114.0 183.4,1113.3 185.0,1112.7 186.6,1113.5 188.3,1113.4 189.9,1112.8 191.5,1113.5 193.1,1112.6 194.7,1113.3 196.3,1113.7 197.8,1114.0 199.4,1114.5 200.9,1113.9 202.5,1112.9 204.0,1113.8 205.5,1113.5 207.1,1114.5 208.6,1114.8 210.2,1113.4 211.7,1114.7 213.2,1113.9 214.8,1113.7 216.3,1114.2 217.9,1114.2 219.4,1113.9 221.0,1113.8 222.6,1114.0 224.2,1114.4 225.8,1113.3 227.4,1113.5 229.1,1113.1 230.7,1113.8 232.3,1112.7 233.9,1113.4 235.5,1112.0 237.0,1113.3 238.5,1112.4 239.9,1113.2 241.3,1112.9 242.6,1113.0 244.2,1111.6 245.8,1112.9 247.3,1112.6 248.7,1113.4 250.0,1113.0 251.4,1112.8 252.8,1114.1 254.2,1114.5 255.6,1113.4 257.0,1113.7 258.4,1114.7 259.8,1115.6 261.2,1115.2 262.6,1116.4 264.1,1116.7 265.7,1117.5 267.1,1116.6 268.6,1116.7 270.1,1117.4 271.7,1117.8 273.3,1117.5 274.9,1117.8 276.6,1116.9 278.2,1116.5 279.8,1117.8 281.4,1117.9 282.9,1117.0 284.3,1117.5 285.7,1119.0 287.1,1119.5 288.4,1119.3 289.7,1120.1 291.0,1121.1 292.3,1121.2 293.5,1122.5 294.7,1123.2 295.9,1123.7 297.0,1125.5 298.1,1127.1 299.3,1126.5 300.4,1128.3 301.4,1129.3 302.4,1130.4 303.4,1131.5 304.3,1132.7 305.3,1133.9 306.3,1135.3 307.4,1136.7 308.1,1137.7 308.9,1138.8 309.7,1140.0 310.5,1141.2 311.2,1142.4 312.0,1143.7 312.9,1145.1 313.7,1146.4 314.5,1147.8 315.3,1149.2 316.1,1150.6 317.0,1152.1 317.8,1153.5 318.6,1155.0 319.5,1156.4 320.3,1157.8 321.1,1159.2 322.0,1160.6 322.8,1162.0 323.6,1163.3 324.4,1164.7 325.3,1166.0 326.1,1167.4 327.0,1168.7 327.8,1170.1 328.6,1171.4 329.5,1172.8 330.3,1174.1 331.1,1175.5 332.0,1176.8 332.8,1178.1 333.7,1179.5 334.5,1180.8 335.4,1182.1 336.3,1183.5 337.1,1184.8 338.0,1186.1 338.9,1187.5 339.8,1188.8 340.7,1190.1 341.6,1191.4 342.5,1192.7 343.4,1194.0 344.4,1195.3 345.3,1196.6 346.3,1197.9 347.2,1199.1 348.2,1200.4 349.1,1201.7 350.1,1203.0 351.0,1204.3 352.0,1205.6 352.9,1206.8 353.8,1208.1 354.8,1209.4 355.7,1210.6 356.6,1211.8 357.4,1213.1 358.3,1214.3 359.2,1215.7 360.2,1217.0 361.1,1218.4 362.0,1219.8 362.9,1221.2 363.7,1222.6 364.6,1224.0 365.5,1225.4 366.3,1226.7 367.2,1228.1 368.0,1229.3 368.9,1230.6 369.7,1231.8 370.5,1233.0 371.4,1234.1 372.2,1235.1 373.3,1236.3 374.3,1237.5 375.3,1238.5 376.3,1239.5 377.3,1240.4 378.4,1241.4 379.4,1242.3 380.4,1243.3 381.5,1244.4 382.5,1245.5 383.5,1246.8 384.5,1248.1 385.5,1249.5 386.6,1250.9 387.6,1252.2 388.6,1253.5 389.7,1254.7 390.8,1255.7 391.9,1256.5 393.1,1257.1 394.5,1257.5 395.8,1257.6 397.3,1257.6 398.7,1257.4 400.2,1257.2 401.7,1256.9 403.1,1256.6 404.6,1256.4 406.0,1256.3 407.5,1256.2 408.9,1256.1 410.3,1256.0 411.7,1255.8 413.2,1255.6 414.7,1255.3 416.2,1254.8 417.4,1254.4 418.7,1253.8 419.9,1253.2 421.2,1252.6 422.5,1251.8 423.8,1251.1 425.2,1250.3 426.5,1249.5 427.9,1248.6 429.3,1247.8 430.6,1246.9 432.0,1246.0 433.3,1245.2 434.7,1244.4 436.0,1243.7 437.3,1242.9 438.6,1242.2 439.9,1241.5 441.2,1240.8 442.5,1240.1 443.9,1239.4 445.2,1238.6 446.5,1237.9 447.8,1237.1 449.1,1236.3 450.5,1235.4 451.8,1234.6 453.1,1233.6 454.3,1232.6 455.6,1231.6 456.6,1230.7 457.7,1229.7 458.7,1228.7 459.8,1227.7 460.8,1226.6 461.8,1225.5 462.9,1224.4 463.9,1223.2 464.9,1222.0 465.9,1220.8 466.9,1219.6 467.9,1218.4 468.9,1217.2 469.9,1215.9 470.9,1214.7 471.9,1213.4 472.9,1212.2 473.9,1210.9 474.9,1209.7 475.8,1208.5 476.8,1207.3 477.7,1206.1 478.7,1205.0 479.7,1203.8 480.7,1202.5 481.7,1201.3 482.7,1200.1 483.7,1198.8 484.7,1197.6 485.7,1196.4 486.7,1195.1 487.7,1193.9 488.6,1192.7 489.6,1191.5 490.5,1190.3 491.5,1189.1 492.4,1187.9 493.4,1186.7 494.3,1185.5 495.3,1184.3 496.2,1183.2 497.2,1182.0 498.1,1180.9 499.1,1179.7 500.2,1178.4 501.2,1177.2 502.2,1176.0 503.2,1174.9 504.3,1173.7 505.3,1172.5 506.3,1171.4 507.3,1170.2 508.3,1169.1 509.3,1167.9 510.3,1166.8 511.3,1165.7 512.3,1164.5 513.3,1163.4 514.3,1162.2 515.3,1161.0 516.3,1159.8 517.3,1158.7 518.3,1157.5 519.3,1156.3 520.3,1155.0 521.3,1153.8 522.3,1152.7 523.3,1151.5 524.3,1150.3 525.3,1149.1 526.4,1148.0 527.4,1146.8 528.4,1145.7 529.5,1144.7 530.5,1143.6 531.6,1142.5 532.8,1141.4 534.0,1140.3 535.2,1139.2 536.4,1138.2 537.6,1137.1 538.9,1136.1 540.1,1135.1 541.3,1134.1 542.4,1133.2 543.6,1132.3 544.7,1131.4 545.7,1130.6 546.7,1129.8 548.0,1128.8 549.2,1127.9 550.3,1127.0 551.4,1126.2 552.5,1125.4 553.7,1124.6 554.8,1123.8 555.9,1123.0 557.1,1122.2 558.2,1121.4 559.4,1120.7 560.6,1119.9 561.7,1119.2 562.9,1118.5 564.2,1117.7 565.6,1117.0 566.9,1116.3 568.3,1115.6 569.6,1115.0 571.0,1114.4 572.3,1113.8 573.7,1113.3 575.0,1112.8 576.4,1112.3 577.7,1111.9 579.1,1111.6 580.4,1111.3 581.8,1111.1 583.2,1110.9 584.5,1110.7 585.9,1110.7 587.2,1110.8 588.6,1111.0 589.9,1111.3 591.3,1111.8 592.7,1112.3 594.0,1112.9 595.3,1113.6 596.5,1114.4 597.7,1115.3 598.9,1116.4 600.1,1117.5 601.2,1118.6 602.3,1119.8 603.4,1120.9 604.4,1122.0 605.4,1123.1 606.4,1124.2 607.3,1125.4 608.2,1126.6 609.1,1127.8 609.9,1129.0 610.7,1130.3 611.4,1131.7 612.1,1133.2 612.7,1134.6 613.4,1136.1 614.1,1137.4 614.8,1138.7 615.6,1140.0 616.3,1141.3 617.1,1142.6 617.9,1143.7 618.7,1144.6 619.6,1145.2 620.9,1145.4 622.2,1145.2 623.7,1144.8 624.8,1144.5 626.0,1144.2 627.3,1143.7 628.6,1143.2 629.9,1142.6 631.3,1141.9 632.6,1141.0 633.6,1140.2 634.6,1139.3 635.6,1138.2 636.6,1137.0 637.6,1135.7 638.7,1134.4 639.7,1133.0 640.7,1131.6 641.8,1130.3 642.8,1129.0 643.7,1127.8 644.7,1126.7 645.6,1125.7 646.5,1124.8 647.8,1123.8 649.0,1123.1 650.2,1122.4 651.3,1121.8 652.4,1121.1 653.4,1120.2 654.2,1119.0 654.9,1117.7 655.4,1116.3 656.1,1114.8 656.9,1113.4 658.0,1112.1 658.9,1111.3 659.9,1110.6 661.1,1109.9 662.3,1109.2 663.7,1108.5 665.1,1107.9 666.5,1107.2 668.1,1106.6 669.6,1106.0 671.2,1105.4 672.8,1104.8 674.3,1104.3 675.9,1103.8 677.4,1103.3 678.9,1102.8 680.4,1102.4 681.8,1101.9 683.3,1101.6 684.7,1101.2 686.2,1100.9 687.6,1100.6 689.1,1100.3 690.6,1100.0 692.1,1099.8 693.6,1099.5 695.2,1099.3 696.8,1099.0 698.5,1098.7 700.2,1098.5 702.0,1098.2 703.3,1098.0 704.6,1097.8 706.0,1097.6 707.4,1097.4 708.8,1097.2 710.2,1097.0 711.7,1096.8 713.2,1096.7 714.7,1096.5 716.2,1096.3 717.8,1096.1 719.4,1095.9 720.9,1095.7 722.5,1095.6 724.1,1095.4 725.8,1095.2 727.4,1095.0 729.0,1094.9 730.6,1094.7 732.3,1094.5 733.9,1094.4 735.5,1094.2 737.2,1094.0 738.8,1093.9 740.4,1093.7 742.0,1093.5 743.6,1093.4 745.2,1093.2 746.7,1093.1 748.3,1092.9 749.8,1092.7 751.4,1092.6 752.9,1092.4 754.5,1092.3 756.0,1092.1 757.6,1092.0 759.1,1091.9 760.6,1091.7 762.2,1091.6 763.7,1091.4 765.3,1091.3 766.8,1091.2 768.4,1091.0 769.9,1090.9 771.4,1090.8 773.0,1090.6 774.5,1090.5 776.1,1090.4 777.6,1090.2 779.2,1090.1 780.7,1090.0 782.2,1089.9 783.8,1089.7 785.3,1089.6 786.9,1089.5 788.4,1089.4 790.0,1089.3 791.5,1089.1 793.1,1089.0 794.6,1088.9 796.2,1088.8 797.8,1088.7 799.3,1088.5 800.9,1088.4 802.4,1088.3 803.9,1088.2 805.4,1088.0 807.0,1087.9 808.5,1087.8 810.0,1087.7 811.5,1087.6 813.0,1087.4 814.5,1087.3 816.0,1087.2 817.6,1087.1 819.1,1087.0 820.7,1086.9 822.2,1086.8 823.8,1086.7 825.4,1086.6 827.0,1086.5 828.7,1086.4 830.3,1086.3 832.0,1086.2 833.7,1086.2 835.5,1086.1 837.3,1086.0 839.1,1086.0 840.9,1085.9 842.2,1085.9 843.6,1085.8 845.0,1085.8 846.4,1085.8 847.8,1085.8 849.3,1085.7 850.7,1085.7 852.2,1085.7 853.7,1085.7 855.2,1085.7 856.7,1085.7 858.3,1085.7 859.8,1085.7 861.4,1085.7 863.0,1085.8 864.6,1085.8 866.2,1085.8 867.8,1085.8 869.4,1085.8 871.0,1085.8 872.7,1085.9 874.3,1085.9 876.0,1085.9 877.6,1085.9 879.3,1086.0 881.0,1086.0 882.7,1086.0 884.3,1086.1 886.0,1086.1 887.7,1086.1 889.4,1086.2 891.1,1086.2 892.8,1086.2 894.4,1086.3 896.1,1086.3 897.8,1086.3 899.5,1086.3 901.2,1086.6 902.8,1086.5 904.5,1086.2 906.2,1086.6 907.8,1086.8 909.5,1086.2 911.1,1086.4 912.8,1086.7 914.4,1086.5 916.0,1086.2 917.6,1086.5 919.2,1086.9 920.8,1086.7 922.4,1086.4 923.9,1086.4 925.5,1086.2 927.0,1086.8 928.5,1086.9 930.0,1086.3 931.7,1086.7 933.3,1086.1 935.0,1086.2 936.7,1086.6 938.4,1086.4 940.0,1086.4 941.7,1085.9 943.3,1086.5 945.0,1086.4 946.6,1086.1 948.3,1086.5 949.9,1086.0 951.6,1086.1 953.2,1085.8 954.8,1086.7 956.5,1086.3 958.1,1086.7 959.7,1086.0 961.3,1086.5 962.9,1086.3 964.5,1085.5 966.1,1086.5 967.7,1086.0 969.3,1085.7 970.9,1085.7 972.4,1085.6 974.0,1086.1 975.6,1085.7 977.1,1085.6 978.7,1085.6 980.2,1085.9 981.7,1085.7 983.2,1085.2 984.8,1085.6 986.3,1086.0 987.8,1085.2 989.2,1085.8 990.7,1085.7 992.2,1085.2 993.7,1085.8 995.1,1084.9 996.5,1084.8 998.0,1084.9 999.4,1084.5 1001.2,1084.4 1002.9,1084.7 1004.6,1084.8 1006.3,1084.8 1008.0,1085.1 1009.7,1084.6 1011.4,1084.5 1013.0,1083.8 1014.7,1083.7 1016.3,1084.3 1017.9,1083.9 1019.6,1084.7 1021.2,1084.4 1022.8,1083.5 1024.3,1083.3 1025.9,1084.1 1027.5,1084.2 1029.0,1083.8 1030.6,1083.0 1032.1,1083.9 1033.7,1083.5 1035.2,1083.7 1036.7,1083.3 1038.2,1083.3 1039.7,1083.5 1041.2,1082.8 1042.7,1082.4 1044.2,1082.4 1045.7,1082.5 1047.4,1083.0 1049.1,1082.9 1050.8,1082.4 1052.4,1082.0 1054.1,1081.8 1055.8,1081.9 1057.4,1082.5 1059.1,1081.4 1060.7,1082.0 1062.4,1082.3 1064.0,1081.7 1065.6,1081.9 1067.1,1081.0 1068.7,1081.4 1070.3,1081.7 1071.8,1080.9 1073.3,1081.1 1074.8,1081.3 1076.2,1081.7 1077.7,1081.4 1079.1,1081.4 1080.5,1081.3 1082.2,1081.1 1083.8,1081.9 1085.5,1081.7 1087.1,1080.9 1088.8,1082.1 1090.3,1081.9 1091.9,1081.2 1093.4,1082.1 1094.9,1082.5 1096.3,1081.9 1097.6,1082.4 1098.9,1082.0 1100.1,1082.8 1101.3,1083.1 1103.0,1083.6 1104.5,1084.2 1105.8,1084.9 1107.1,1085.7 1108.3,1086.6 1109.4,1087.8 1110.1,1088.9 1110.7,1090.4 1111.3,1092.0 1111.8,1093.9 1112.3,1095.8 1112.7,1097.8 1113.1,1099.7 1113.5,1101.4 1113.9,1102.9 1114.3,1104.0 1114.7,1104.8 1115.2,1105.1 1115.7,1104.8 1116.2,1103.8 1116.7,1102.4 1117.2,1100.7 1117.7,1098.9 1118.3,1097.2 1119.0,1095.7 1119.8,1094.7 1121.0,1093.8 1122.5,1093.0 1124.0,1092.4 1125.4,1092.2 1126.8,1092.4 1127.8,1092.9 1128.8,1093.8 1129.7,1094.9 1130.6,1096.2 1131.4,1097.7 1132.3,1099.3 1133.0,1101.0 1133.7,1102.8 1134.1,1103.9 1134.4,1105.1 1134.8,1106.4 1135.1,1107.8 1135.3,1109.2 1135.6,1110.7 1135.8,1112.3 1136.0,1113.8 1136.2,1115.5 1136.4,1117.1 1136.5,1118.8 1136.7,1120.5 1136.8,1122.2 1137.0,1123.9 1137.1,1125.6 1137.3,1127.3 1137.4,1128.9 1137.6,1130.5 1137.7,1132.1 1137.9,1133.6 1138.1,1135.0 1138.3,1136.4 1138.6,1138.1 1138.8,1140.0 1139.0,1141.9 1139.3,1143.9 1139.5,1145.9 1139.8,1147.8 1140.0,1149.7 1140.2,1151.4 1140.5,1153.0 1140.7,1154.4 1141.0,1155.6 1141.2,1156.4 1141.5,1157.0 1141.8,1157.2 1142.1,1157.0 1142.4,1156.4 1142.7,1155.6 1143.0,1154.4 1143.3,1153.0 1143.7,1151.3 1144.0,1149.6 1144.3,1147.7 1144.7,1145.7 1145.0,1143.7 1145.4,1141.8 1145.7,1139.9 1146.1,1138.1 1146.4,1136.4 1146.7,1135.0 1147.0,1133.4 1147.3,1131.8 1147.6,1130.1 1147.8,1128.4 1148.1,1126.7 1148.4,1124.9 1148.7,1123.2 1149.0,1121.4 1149.3,1119.8 1149.6,1118.1 1149.9,1116.6 1150.2,1115.1 1150.6,1113.8 1151.0,1112.5 1151.4,1111.5 1151.8,1110.5 1152.2,1109.8 1153.3,1108.5 1154.5,1107.7 1155.7,1107.5 1156.8,1107.8 1157.9,1108.6 1159.1,1109.7 1160.3,1110.9 1161.5,1112.1 1162.4,1113.1 1163.2,1114.3 1164.1,1115.7 1165.0,1117.0 1165.8,1118.3 1166.7,1119.5 1167.5,1120.6 1168.4,1121.3 1169.9,1122.1 1171.4,1122.6 1173.0,1122.5 1174.1,1122.1 1175.3,1121.4 1176.4,1120.5 1177.6,1119.3 1178.8,1118.1 1180.0,1116.7 1180.7,1115.7 1181.5,1114.6 1182.2,1113.4 1182.9,1112.0 1183.5,1110.6 1184.2,1109.1 1184.9,1107.5 1185.6,1106.0 1186.4,1104.5 1187.1,1103.0 1187.9,1101.6 1188.8,1100.2 1189.7,1099.0 1190.6,1097.7 1191.6,1096.6 1192.9,1095.7 1194.3,1095.0 1195.7,1094.2 1197.2,1094.0 1198.8,1093.5 1200.4,1093.4 1202.0,1093.0 1203.5,1091.5 1205.0,1092.2 1206.5,1091.3 1207.8,1091.2 1209.5,1091.6 1211.0,1090.4 1212.5,1091.2 1214.0,1090.5 1215.5,1091.5 1217.0,1091.1 1218.3,1091.9 1219.7,1092.3 1221.2,1094.4 1222.7,1095.7 1224.1,1096.3 1225.4,1098.1 1226.6,1099.1 1227.7,1099.6 1228.6,1098.9 1229.5,1099.0 1230.1,1096.7 1231.0,1095.5 1232.0,1095.2 1233.2,1096.4 1234.7,1096.1 1236.1,1096.4 1237.6,1098.0 1239.0,1098.0 1240.2,1099.0 1241.0,1100.4 1241.7,1100.9 1242.4,1103.0 1242.9,1103.3 1243.5,1105.3 1244.0,1106.2 1244.5,1108.3 1245.0,1110.2 1245.5,1110.7 1246.0,1113.2 1246.5,1114.6 1247.1,1116.0 1247.7,1117.1 1248.3,1119.1 1248.9,1120.1 1249.4,1122.6 1250.0,1123.8 1250.6,1126.1 1251.2,1126.6 1251.9,1128.9 1252.5,1129.7 1253.2,1129.8 1254.0,1130.8 1255.1,1130.3 1256.3,1129.1 1257.5,1128.5 1258.7,1127.8 1259.9,1125.8 1261.0,1126.2 1262.2,1126.0 1263.2,1128.3 1264.3,1129.0 1265.6,1130.0 1266.7,1128.9 1267.9,1128.7 1269.2,1127.1 1270.5,1126.3 1271.9,1124.6 1273.3,1123.1 1274.7,1122.6 1276.0,1121.1 1277.2,1121.2 1278.2,1121.8 1279.1,1123.0 1280.0,1124.2 1280.9,1125.2 1281.7,1127.3 1282.6,1129.4 1283.4,1131.4 1284.2,1132.6 1285.0,1134.1 1285.9,1134.8 1286.7,1135.9 1287.6,1136.7 1288.5,1136.1 1289.4,1134.8 1290.3,1134.5 1291.2,1132.1 1292.1,1130.4 1293.0,1129.5 1293.9,1127.6 1294.9,1125.4 1295.9,1123.6 1296.9,1122.9 1298.0,1122.3 1299.3,1122.2 1300.7,1123.1 1302.2,1123.8 1303.7,1124.4 1305.2,1124.9 1306.7,1126.6 1308.2,1127.2 1309.6,1127.4 1311.0,1126.6 1312.3,1126.8 1313.7,1125.0 1315.1,1124.6 1316.4,1123.5 1317.7,1122.8 1318.9,1122.0 1320.0,1122.1 1321.7,1122.5 1323.1,1122.9 1324.6,1123.8 1325.3,1124.4 1326.0,1124.9 1326.7,1126.8 1327.4,1128.0 1328.1,1130.1 1328.8,1131.9 1329.4,1132.7 1330.1,1134.9 1330.8,1136.7 1331.6,1138.3 1332.3,1139.7 1333.1,1140.9 1333.9,1141.8 1335.2,1142.8 1336.5,1143.6 1337.9,1144.1 1339.3,1144.4 1340.8,1144.5 1342.1,1144.4 1343.4,1144.2 1344.8,1143.7 1346.2,1143.2 1347.6,1142.5 1348.9,1141.8 1350.0,1140.9 1350.9,1139.9 1351.7,1138.7 1352.4,1137.3 1353.1,1135.9 1353.7,1134.4 1354.4,1133.1 1355.1,1132.0 1355.9,1131.1 1357.3,1130.4 1358.9,1130.2 1360.4,1129.9 1361.8,1129.2 1362.6,1128.2 1363.4,1126.7 1364.0,1124.9 1364.7,1123.1 1365.3,1121.3 1365.8,1119.8 1366.5,1118.8 1367.1,1118.4 1367.9,1118.7 1368.7,1119.5 1369.4,1120.7 1370.2,1122.1 1370.9,1123.7 1371.6,1125.3 1372.0,1126.4 1372.4,1127.7 1372.8,1129.0 1373.1,1130.4 1373.4,1131.9 1373.7,1133.4 1374.0,1135.0 1374.2,1136.6 1374.5,1138.3 1374.7,1139.9 1375.0,1141.6 1375.2,1143.3 1375.5,1144.9 1375.7,1146.4 1375.9,1148.0 1376.1,1149.8 1376.3,1151.7 1376.5,1153.6 1376.7,1155.6 1376.8,1157.6 1377.0,1159.6 1377.2,1161.6 1377.4,1163.4 1377.5,1165.2 1377.8,1166.8 1378.0,1168.3 1378.2,1169.6 1378.5,1170.7 1378.7,1171.5 1379.1,1172.1 1379.4,1172.3 1380.1,1172.0 1380.9,1171.0 1381.8,1169.6 1382.6,1168.0 1383.3,1166.4 1383.8,1165.0 1384.3,1163.2 1384.7,1161.3 1385.1,1159.4 1385.5,1157.6 1385.9,1156.1 1386.3,1155.1 1386.7,1154.7 1387.1,1155.0 1387.6,1155.9 1388.0,1157.2 1388.5,1158.9 1388.9,1160.8 1389.4,1162.7 1389.8,1164.6 1390.2,1166.4 1390.5,1167.7 1390.8,1169.2 1391.1,1170.6 1391.4,1172.2 1391.7,1173.7 1392.0,1175.3 1392.3,1176.9 1392.6,1178.5 1392.9,1180.1 1393.2,1181.6 1393.5,1183.1 1393.8,1184.6 1394.1,1186.0 1394.5,1187.7 1394.8,1189.4 1395.2,1191.0 1395.6,1192.6 1395.9,1194.2 1396.4,1195.7 1396.8,1197.2 1397.4,1198.5 1398.0,1199.7 1398.8,1200.9 1399.8,1201.9 1400.8,1202.9 1401.9,1203.7 1402.9,1204.6 1403.9,1205.6 1404.9,1206.7 1406.0,1207.7 1407.0,1208.8 1408.0,1209.9 1409.0,1211.2 1409.8,1212.5 1410.4,1213.7 1410.9,1215.0 1411.3,1216.3 1411.8,1217.7 1412.1,1219.2 1412.5,1220.7 1412.9,1222.2 1413.3,1223.7 1413.7,1225.2 1414.1,1226.7 1414.5,1228.5 1414.9,1230.4 1415.4,1232.4 1415.8,1234.4 1416.2,1236.3 1416.6,1238.0 1417.1,1239.5 1417.6,1240.7 1418.1,1241.5 1418.6,1241.8 1419.2,1241.6 1419.8,1240.9 1420.5,1239.8 1421.2,1238.4 1421.8,1236.8 1422.5,1235.1 1423.2,1233.3 1423.9,1231.6 1424.5,1230.1 1425.1,1228.7 1425.6,1227.0 1426.1,1225.2 1426.6,1223.3 1427.1,1221.5 1427.6,1219.7 1428.1,1218.1 1428.6,1216.6 1429.1,1215.5 1429.7,1214.7 1430.3,1214.4 1431.1,1214.8 1431.9,1215.9 1432.8,1217.4 1433.7,1219.2 1434.6,1220.7 1435.4,1221.8 1436.2,1222.2 1436.8,1221.8 1437.4,1221.0 1437.9,1219.9 1438.5,1218.4 1439.0,1216.7 1439.4,1214.9 1439.9,1213.0 1440.3,1211.1 1440.7,1209.3 1441.1,1207.6 1441.4,1206.2 1441.7,1204.7 1441.9,1203.1 1442.0,1201.5 1442.2,1199.9 1442.3,1198.3 1442.5,1196.7 1442.7,1195.2 1442.9,1193.7 1443.2,1192.3 1443.5,1191.0 1444.0,1189.9 1444.8,1188.5 1445.8,1187.4 1446.9,1186.5 1448.0,1185.5 1449.1,1184.4 1449.9,1183.1 1450.4,1181.9 1450.8,1180.7 1451.2,1179.3 1451.5,1178.0 1451.8,1176.5 1452.0,1175.0 1452.2,1173.4 1452.4,1171.8 1452.7,1170.1 1452.9,1168.4 1453.1,1167.1 1453.3,1165.7 1453.4,1164.3 1453.6,1162.8 1453.7,1161.2 1453.9,1159.6 1454.0,1158.0 1454.2,1156.4 1454.3,1154.7 1454.5,1153.0 1454.6,1151.4 1454.7,1149.7 1454.9,1148.1 1455.0,1146.5 1455.2,1144.9 1455.3,1143.3 1455.5,1141.8 1455.6,1140.4 1455.8,1139.0 1456.0,1137.4 1456.2,1135.8 1456.4,1134.2 1456.6,1132.7 1456.8,1131.2 1457.0,1129.7 1457.3,1128.3 1457.5,1126.8 1457.8,1125.4 1458.1,1124.0 1458.4,1122.7 1458.7,1121.3 1459.1,1119.8 1459.5,1118.4 1460.0,1117.0 1460.5,1115.6 1461.0,1114.3 1461.5,1112.9 1462.0,1111.6 1462.6,1110.3 1463.1,1108.9 1463.6,1107.6 1464.1,1106.1 1464.5,1104.6 1464.9,1103.0 1465.3,1101.4 1465.7,1099.9 1466.2,1098.4 1466.8,1097.1 1467.6,1095.9 1468.5,1094.9 1469.6,1094.1 1470.8,1093.4 1472.3,1092.8 1473.8,1092.2 1475.4,1091.8 1477.1,1091.4 1478.7,1091.1 1480.3,1091.0 1481.8,1091.0 1483.2,1091.1 1484.4,1091.3 1485.8,1092.1 1487.1,1093.4 1488.2,1095.0 1489.2,1096.4 1490.3,1097.5 1491.3,1097.8 1492.1,1097.4 1492.8,1096.5 1493.5,1095.2 1494.2,1093.6 1494.9,1091.9 1495.6,1090.2 1496.4,1088.6 1497.2,1087.2 1498.2,1086.2 1499.4,1085.4 1500.6,1084.7 1502.0,1084.2 1503.4,1083.8 1504.8,1083.5 1506.2,1083.4 1507.5,1083.4 1508.9,1083.6 1510.2,1083.9 1511.6,1084.3 1513.0,1084.9 1514.3,1085.6 1515.6,1086.5 1516.8,1087.4 1517.7,1088.4 1518.6,1089.6 1519.4,1090.9 1520.2,1092.5 1520.9,1094.0 1521.7,1095.6 1522.4,1097.1 1523.2,1098.5 1524.1,1099.6 1525.0,1100.6 1526.0,1101.2 1527.3,1101.5 1528.6,1101.4 1530.1,1101.0 1531.5,1100.5 1533.0,1099.9 1534.5,1099.4 1536.1,1099.0 1537.6,1098.9 1539.1,1099.0 1540.6,1099.2 1542.2,1099.6 1543.7,1100.0 1545.3,1100.4 1546.8,1100.9 1548.4,1101.4 1550.0,1101.9 1551.5,1102.4 1552.9,1102.8 1554.3,1103.2 1555.7,1103.6 1557.2,1104.0 1558.6,1104.4 1560.0,1104.8 1561.4,1105.3 1562.8,1105.8 1564.1,1106.4 1565.4,1107.0 1566.8,1107.8 1568.2,1108.6 1569.5,1109.6 1570.8,1110.6 1572.1,1111.6 1573.4,1112.6 1574.6,1113.5 1575.8,1114.4 1577.0,1115.1 1578.5,1115.9 1580.0,1116.4 1581.4,1116.9 1582.7,1117.6 1583.9,1118.6 1584.7,1119.8 1585.2,1121.3 1585.7,1123.1 1586.1,1124.9 1586.5,1126.7 1587.0,1128.3 1587.7,1129.5 1588.5,1130.2 1589.6,1130.3 1590.8,1129.9 1592.2,1129.2 1593.6,1128.3 1595.0,1127.4 1596.5,1126.9 1597.8,1126.7 1599.1,1127.0 1600.5,1127.7 1601.8,1128.5 1603.1,1129.5 1604.4,1130.6 1605.7,1131.6 1607.0,1132.5 1608.3,1133.4 1609.6,1134.4 1610.8,1135.4 1612.1,1136.4 1613.4,1137.2 1614.8,1137.9 1616.3,1138.3 1617.6,1138.4 1619.0,1138.4 1620.4,1138.3 1621.9,1138.0 1623.5,1137.7 1625.1,1137.3 1626.6,1136.8 1628.2,1136.3 1629.7,1135.8 1631.1,1135.3 1632.5,1134.8 1633.9,1134.3 1635.2,1133.6 1636.5,1133.0 1637.8,1132.3 1639.0,1131.6 1640.2,1130.9 1641.5,1130.2 1642.7,1129.6 1644.0,1129.0 1645.4,1128.5 1646.9,1128.0 1648.3,1127.6 1649.8,1127.2 1651.2,1126.9 1652.7,1126.5 1654.2,1126.1 1655.6,1125.6 1657.1,1125.1 1658.5,1124.5 1659.9,1123.9 1661.3,1123.2 1662.8,1122.6 1664.2,1122.0 1665.7,1121.4 1667.2,1120.9 1668.7,1120.5 1670.2,1120.0 1671.8,1119.7 1673.4,1119.3 1675.0,1119.0 1676.6,1118.6 1678.1,1118.3 1679.6,1117.9 1681.0,1117.5 1682.4,1117.0 1683.8,1116.5 1685.1,1116.0 1686.4,1115.4 1687.7,1114.9 1689.0,1114.4 1690.4,1114.0 1691.9,1113.5 1693.5,1113.0 1695.1,1112.5 1696.7,1112.1 1698.2,1111.8 1699.6,1111.6 1700.8,1111.7 1702.1,1112.3 1703.2,1113.1 1704.3,1114.0 1704.3,1208.9"/>
<line x1="401.9" y1="536" x2="401.9" y2="1287" stroke="#383838" stroke-width="2.3" stroke-dasharray="9 6.6"/>
<line x1="625.6" y1="492" x2="625.6" y2="1238.5" stroke="#383838" stroke-width="2.3" stroke-dasharray="9 6.6"/>
<line x1="1170.5" y1="478.5" x2="1170.5" y2="1231" stroke="#383838" stroke-width="2.3" stroke-dasharray="9 6.6"/>
<line x1="1640.1" y1="355.7" x2="1640.1" y2="496" stroke="#383838" stroke-width="2.3" stroke-dasharray="9 6.6"/>
<line x1="1640.1" y1="496" x2="1640.1" y2="1106" stroke="#333" stroke-width="2.3"/>
<line x1="1640.1" y1="1106" x2="1640.1" y2="1242.5" stroke="#383838" stroke-width="2.3" stroke-dasharray="9 6.6"/>
<rect x="156" y="22" width="1550" height="1405" fill="none" stroke="#000" stroke-width="4"/>
<line x1="156.5" y1="1427" x2="156.5" y2="1452" stroke="#000" stroke-width="3.6" stroke-linecap="round"/>
<line x1="264.1" y1="1427" x2="264.1" y2="1440" stroke="#000" stroke-width="3.6" stroke-linecap="round"/>
<line x1="371.6" y1="1427" x2="371.6" y2="1452" stroke="#000" stroke-width="3.6" stroke-linecap="round"/>
<line x1="479.2" y1="1427" x2="479.2" y2="1440" stroke="#000" stroke-width="3.6" stroke-linecap="round"/>
<line x1="586.8" y1="1427" x2="586.8" y2="1452" stroke="#000" stroke-width="3.6" stroke-linecap="round"/>
<line x1="694.3" y1="1427" x2="694.3" y2="1440" stroke="#000" stroke-width="3.6" stroke-linecap="round"/>
<line x1="801.9" y1="1427" x2="801.9" y2="1452" stroke="#000" stroke-width="3.6" stroke-linecap="round"/>
<line x1="909.5" y1="1427" x2="909.5" y2="1440" stroke="#000" stroke-width="3.6" stroke-linecap="round"/>
<line x1="1017.0" y1="1427" x2="1017.0" y2="1452" stroke="#000" stroke-width="3.6" stroke-linecap="round"/>
<line x1="1124.6" y1="1427" x2="1124.6" y2="1440" stroke="#000" stroke-width="3.6" stroke-linecap="round"/>
<line x1="1232.1" y1="1427" x2="1232.1" y2="1452" stroke="#000" stroke-width="3.6" stroke-linecap="round"/>
<line x1="1339.7" y1="1427" x2="1339.7" y2="1440" stroke="#000" stroke-width="3.6" stroke-linecap="round"/>
<line x1="1447.3" y1="1427" x2="1447.3" y2="1452" stroke="#000" stroke-width="3.6" stroke-linecap="round"/>
<line x1="1554.8" y1="1427" x2="1554.8" y2="1440" stroke="#000" stroke-width="3.6" stroke-linecap="round"/>
<line x1="1662.4" y1="1427" x2="1662.4" y2="1452" stroke="#000" stroke-width="3.6" stroke-linecap="round"/>
<text transform="translate(156.5,1509) scale(1,1.04)" font-size="55" text-anchor="middle">4000</text>
<text transform="translate(371.6,1509) scale(1,1.04)" font-size="55" text-anchor="middle">3500</text>
<text transform="translate(586.8,1509) scale(1,1.04)" font-size="55" text-anchor="middle">3000</text>
<text transform="translate(801.9,1509) scale(1,1.04)" font-size="55" text-anchor="middle">2500</text>
<text transform="translate(1017.0,1509) scale(1,1.04)" font-size="55" text-anchor="middle">2000</text>
<text transform="translate(1232.1,1509) scale(1,1.04)" font-size="55" text-anchor="middle">1500</text>
<text transform="translate(1447.3,1509) scale(1,1.04)" font-size="55" text-anchor="middle">1000</text>
<text transform="translate(1662.4,1509) scale(1,1.04)" font-size="55" text-anchor="middle">500</text>
<text transform="translate(594.2,1605.8) scale(1.009,1)" font-size="77">Wavenumber (cm<tspan font-size="46" dy="-38">-1</tspan><tspan dy="38">)</tspan></text>
<text transform="translate(81,726.9) rotate(-90) scale(1.012,1)" font-size="77" text-anchor="middle">Transmittance (a. u.)</text>
<line x1="197" y1="75" x2="344" y2="75" stroke="#00ffff" stroke-width="6" stroke-linecap="round"/>
<text transform="translate(362,97.7) scale(1,1.025)" font-size="66.5">Fe<tspan font-size="45" dy="22.4">3</tspan><tspan dy="-22.4">O</tspan><tspan font-size="45" dy="22.4">4</tspan><tspan dy="-22.4">/NC8</tspan></text>
<line x1="197" y1="177" x2="344" y2="177" stroke="#0000ff" stroke-width="6" stroke-linecap="round"/>
<text transform="translate(362,199.3) scale(1,1.025)" font-size="66.5">Fe<tspan font-size="45" dy="22.4">3</tspan><tspan dy="-22.4">O</tspan><tspan font-size="45" dy="22.4">4</tspan><tspan dy="-22.4">/NC4</tspan></text>
<line x1="197" y1="278.5" x2="344" y2="278.5" stroke="#00ff00" stroke-width="6" stroke-linecap="round"/>
<text transform="translate(362,300.9) scale(1,1.025)" font-size="66.5">Fe<tspan font-size="45" dy="22.4">3</tspan><tspan dy="-22.4">O</tspan><tspan font-size="45" dy="22.4">4</tspan><tspan dy="-22.4">/NC2</tspan></text>
<line x1="197" y1="380" x2="344" y2="380" stroke="#ff0000" stroke-width="6" stroke-linecap="round"/>
<text transform="translate(362,402.5) scale(1,1.025)" font-size="66.5">Fe<tspan font-size="45" dy="22.4">3</tspan><tspan dy="-22.4">O</tspan><tspan font-size="45" dy="22.4">4</tspan><tspan dy="-22.4">/NC1</tspan></text>
<line x1="197" y1="481.6" x2="344" y2="481.6" stroke="#000" stroke-width="6" stroke-linecap="round"/>
<text transform="translate(362,504.1) scale(1,1.025)" font-size="66.5">NC</text>
<text transform="translate(431.2,1340.5) rotate(-90) scale(1,1.04)" font-size="61.5" text-anchor="middle">3430</text>
<text transform="translate(649.8,1304.7) rotate(-90) scale(1,1.04)" font-size="61.5" text-anchor="middle">2900</text>
<text transform="translate(1198,1287.5) rotate(-90) scale(1,1.04)" font-size="61.5" text-anchor="middle">1640</text>
<text transform="translate(1662.4,1290) rotate(-90) scale(1,1.04)" font-size="61.5" text-anchor="middle">563</text>
</svg>
</body></html>
